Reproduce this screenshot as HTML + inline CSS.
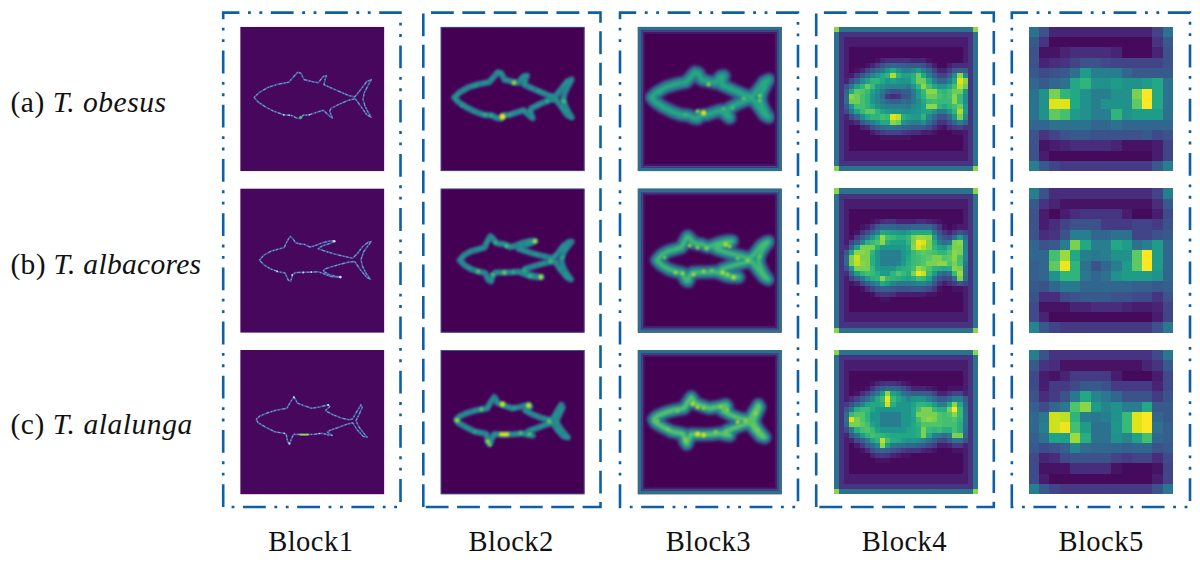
<!DOCTYPE html>
<html><head><meta charset="utf-8"><title>Feature maps</title>
<style>html,body{margin:0;padding:0;background:#fff}svg{display:block}</style></head>
<body>
<svg width="1200" height="563" viewBox="0 0 1200 563">
<defs>
<filter id="b1" filterUnits="userSpaceOnUse" x="-5" y="-5" width="155" height="155"><feGaussianBlur stdDeviation="0.55"/></filter>
<filter id="b2" filterUnits="userSpaceOnUse" x="-5" y="-5" width="155" height="155"><feGaussianBlur stdDeviation="1.1"/></filter>
<filter id="b3" filterUnits="userSpaceOnUse" x="-5" y="-5" width="155" height="155"><feGaussianBlur stdDeviation="1.6"/></filter>
<filter id="bs" filterUnits="userSpaceOnUse" x="-5" y="-5" width="155" height="155"><feGaussianBlur stdDeviation="0.8"/></filter>
<path id="f1" d="M13.8 70.7 L19.2 65.6 L28.1 60.5 L38.4 57.3 L48.6 55.4 L53.7 49.6 L57.5 45.4 L60.7 46.4 L63.9 52.8 L71.6 54.7 L78.0 56.0 L83.1 49.6 L86.3 49.0 L85.0 52.2 L83.8 57.9 L89.5 60.5 L99.7 65.0 L108.7 68.8 L114.5 70.1 L120.2 63.1 L126.6 54.7 L131.1 52.8 L127.9 58.6 L124.0 66.2 L122.8 72.6 L124.7 79.0 L127.9 85.4 L131.1 90.5 L126.6 88.0 L120.2 79.0 L115.1 72.0 L108.7 73.3 L99.7 77.1 L90.8 81.6 L89.5 84.2 L92.1 91.2 L89.5 89.3 L83.1 83.5 L76.7 85.4 L69.1 88.0 L62.7 88.6 L60.1 91.8 L56.3 91.2 L51.2 88.6 L43.5 88.0 L34.5 84.8 L25.6 80.3 L17.9 75.2Z"/>
<path id="f2" d="M19.2 71.8 L23.7 66.7 L30.7 62.8 L38.4 60.7 L44.1 59.0 L46.7 53.2 L49.9 47.9 L52.4 50.0 L55.6 54.5 L60.1 55.5 L63.9 55.8 L69.7 58.6 L73.5 57.7 L81.8 54.5 L89.5 52.6 L94.6 52.6 L89.5 55.2 L81.8 57.7 L78.0 60.3 L83.1 62.2 L93.4 65.4 L103.6 67.9 L112.5 69.9 L117.6 64.7 L122.8 57.7 L127.9 53.9 L131.1 53.2 L127.9 57.1 L123.4 63.5 L120.8 71.1 L122.1 77.5 L126.0 85.2 L130.4 91.0 L126.6 89.0 L120.2 81.4 L114.5 73.1 L108.7 73.7 L101.0 75.6 L92.1 78.2 L84.4 80.7 L83.1 82.7 L88.2 85.9 L94.6 87.8 L101.0 88.7 L94.6 88.6 L89.5 87.8 L83.1 85.2 L78.0 83.3 L71.6 83.7 L62.7 83.9 L55.0 84.2 L52.4 86.5 L50.5 92.9 L48.0 91.6 L44.8 84.6 L38.4 83.3 L30.7 80.7 L24.3 76.9Z"/>
<path id="f3" d="M16.0 69.5 L19.2 66.3 L26.9 62.9 L35.8 60.3 L46.7 58.3 L50.5 51.6 L53.7 47.1 L55.6 49.7 L56.9 52.9 L63.9 55.7 L71.6 58.3 L79.3 57.0 L88.2 54.8 L89.5 56.7 L85.0 60.6 L92.1 64.4 L101.0 68.0 L108.7 69.8 L112.5 68.9 L116.4 61.9 L120.8 54.8 L122.1 57.4 L118.9 64.4 L115.7 70.8 L118.9 77.2 L123.4 83.0 L127.2 87.4 L122.8 86.2 L116.4 79.1 L112.5 72.7 L106.1 74.4 L97.2 77.8 L89.5 80.4 L87.0 82.1 L92.1 85.5 L88.2 84.9 L81.8 83.3 L74.2 84.2 L63.9 84.6 L53.7 84.2 L51.8 87.4 L49.2 94.1 L47.3 91.3 L46.0 84.2 L43.5 83.3 L34.5 81.7 L25.6 77.2 L17.9 72.7Z"/>
<clipPath id="c0"><rect x="0" y="0" width="144.2" height="144.4"/></clipPath>
<clipPath id="c1"><rect x="0" y="0" width="144.2" height="144.4"/></clipPath>
<clipPath id="c2"><rect x="0" y="0" width="144.2" height="144.4"/></clipPath>
<clipPath id="c3"><rect x="0" y="0" width="144.2" height="144.4"/></clipPath>
<clipPath id="c4"><rect x="0" y="0" width="144.2" height="144.4"/></clipPath>
</defs>
<rect width="1200" height="563" fill="#fff"/>
<path d="M223.2 507.0 V12.6 H400.5 V507.0 Z" fill="none" stroke="#0d5fa6" stroke-width="2.60" stroke-dasharray="22.82 8.56 2.85 8.56 2.85 8.56"/>
<path d="M423.3 507.0 V12.6 H600.5 V507.0 Z" fill="none" stroke="#0d5fa6" stroke-width="2.60" stroke-dasharray="22.82 8.56"/>
<path d="M620.0 507.0 V12.6 H798.0 V507.0 Z" fill="none" stroke="#0d5fa6" stroke-width="2.60" stroke-dasharray="22.82 8.56 2.85 8.56 2.85 8.56"/>
<path d="M816.2 507.0 V12.6 H993.8 V507.0 Z" fill="none" stroke="#0d5fa6" stroke-width="2.60" stroke-dasharray="22.82 8.56"/>
<path d="M1011.8 507.0 V12.6 H1190.0 V507.0 Z" fill="none" stroke="#0d5fa6" stroke-width="2.60" stroke-dasharray="22.82 8.56 2.85 8.56 2.85 8.56"/>
<text x="10.5" y="111.6" font-family="'Liberation Serif', serif" font-size="29.5" letter-spacing="0.50" fill="#111">(a) <tspan font-style="italic">T. obesus</tspan></text>
<text x="10.5" y="273.6" font-family="'Liberation Serif', serif" font-size="29.5" letter-spacing="0.30" fill="#111">(b) <tspan font-style="italic">T. albacores</tspan></text>
<text x="10.5" y="434.2" font-family="'Liberation Serif', serif" font-size="29.5" letter-spacing="0.55" fill="#111">(c) <tspan font-style="italic">T. alalunga</tspan></text>
<text x="268.2" y="550.8" font-family="'Liberation Serif', serif" font-size="28.6" letter-spacing="0.45" fill="#111">Block1</text>
<text x="468.5" y="550.8" font-family="'Liberation Serif', serif" font-size="28.6" letter-spacing="0.45" fill="#111">Block2</text>
<text x="665.8" y="550.8" font-family="'Liberation Serif', serif" font-size="28.6" letter-spacing="0.45" fill="#111">Block3</text>
<text x="861.8" y="550.8" font-family="'Liberation Serif', serif" font-size="28.6" letter-spacing="0.45" fill="#111">Block4</text>
<text x="1058.4" y="550.8" font-family="'Liberation Serif', serif" font-size="28.6" letter-spacing="0.45" fill="#111">Block5</text>
<g transform="translate(240.2 26.8)" clip-path="url(#c0)">
<rect width="144.2" height="144.4" fill="#46075d"/>
<g filter="url(#b1)">
<use href="#f1" fill="none" stroke="#43599c" stroke-width="1.6" stroke-linejoin="round"/>
<use href="#f1" fill="none" stroke="#7f97cf" stroke-width="1.1" stroke-dasharray="1.4 1.6 2.2 2.4 1.2 3.1 3 2" stroke-linejoin="round"/>
<circle cx="60.5" cy="90.5" r="1.6" fill="#44bf70"/>
<circle cx="43.5" cy="88.0" r="0.9" fill="#cfe0f2"/>
<circle cx="69.0" cy="88.0" r="0.8" fill="#cfe0f2"/>
<circle cx="49.0" cy="88.5" r="0.8" fill="#cfe0f2"/>
</g></g>
<g transform="translate(240.2 188.4)" clip-path="url(#c0)">
<rect width="144.2" height="144.4" fill="#46075d"/>
<g filter="url(#b1)">
<use href="#f2" fill="none" stroke="#43599c" stroke-width="1.6" stroke-linejoin="round"/>
<use href="#f2" fill="none" stroke="#7f97cf" stroke-width="1.1" stroke-dasharray="1.4 1.6 2.2 2.4 1.2 3.1 3 2" stroke-linejoin="round"/>
<circle cx="94.0" cy="52.8" r="1.3" fill="#cfe0f2"/>
<circle cx="100.0" cy="88.7" r="1.3" fill="#cfe0f2"/>
<circle cx="63.0" cy="84.0" r="1.0" fill="#cfe0f2"/>
<circle cx="71.0" cy="83.7" r="0.9" fill="#cfe0f2"/>
<circle cx="37.0" cy="83.0" r="0.9" fill="#cfe0f2"/>
<circle cx="52.0" cy="86.5" r="0.9" fill="#cfe0f2"/>
</g></g>
<g transform="translate(240.2 350.0)" clip-path="url(#c0)">
<rect width="144.2" height="144.4" fill="#46075d"/>
<g filter="url(#b1)">
<use href="#f3" fill="none" stroke="#43599c" stroke-width="1.6" stroke-linejoin="round"/>
<use href="#f3" fill="none" stroke="#7f97cf" stroke-width="1.1" stroke-dasharray="1.4 1.6 2.2 2.4 1.2 3.1 3 2" stroke-linejoin="round"/>
<rect x="59.5" y="83.7" width="9" height="1.8" fill="#9bd93c"/>
<circle cx="53.7" cy="47.3" r="1.0" fill="#cfe0f2"/>
<circle cx="88.0" cy="55.0" r="1.0" fill="#cfe0f2"/>
<circle cx="49.3" cy="93.5" r="1.0" fill="#cfe0f2"/>
<circle cx="79.0" cy="83.5" r="0.8" fill="#cfe0f2"/>
<circle cx="44.0" cy="83.3" r="0.8" fill="#cfe0f2"/>
</g></g>
<g transform="translate(440.5 26.8)" clip-path="url(#c1)">
<rect width="144.2" height="144.4" fill="#440154"/>
<g filter="url(#b2)">
<use href="#f1" fill="none" stroke="#3b528b" stroke-width="6.8" stroke-linejoin="round"/>
<use href="#f1" fill="none" stroke="#25848e" stroke-width="4.2" stroke-linejoin="round"/>
<use href="#f1" fill="none" stroke="#1f9a8a" stroke-width="2.0" stroke-linejoin="round" stroke-dasharray="7 4 3 5 9 3"/>
</g>
<g filter="url(#bs)">
<circle cx="73.5" cy="56.0" r="2.3" fill="#9bd93c"/>
<circle cx="62.0" cy="90.0" r="3.0" fill="#e5e419"/>
<circle cx="123.3" cy="74.5" r="2.1" fill="#44bf70"/>
<circle cx="44.7" cy="88.0" r="1.5" fill="#44bf70"/>
<circle cx="50.5" cy="88.6" r="1.5" fill="#2fb47c"/>
<circle cx="69.0" cy="88.0" r="1.4" fill="#2fb47c"/>
<circle cx="106.7" cy="74.5" r="1.7" fill="#2fb47c"/>
<circle cx="21.0" cy="79.0" r="1.5" fill="#22a884"/>
<circle cx="35.0" cy="59.0" r="1.4" fill="#20a386"/>
<circle cx="98.0" cy="64.0" r="1.4" fill="#20a386"/>
</g>
<rect x="0.5" y="0.5" width="143.2" height="143.4" fill="none" stroke="#38588c" stroke-width="1"/>
</g>
<g transform="translate(440.5 188.4)" clip-path="url(#c1)">
<rect width="144.2" height="144.4" fill="#440154"/>
<g filter="url(#b2)">
<use href="#f2" fill="none" stroke="#3b528b" stroke-width="6.8" stroke-linejoin="round"/>
<use href="#f2" fill="none" stroke="#25848e" stroke-width="4.2" stroke-linejoin="round"/>
<use href="#f2" fill="none" stroke="#1f9a8a" stroke-width="2.0" stroke-linejoin="round" stroke-dasharray="7 4 3 5 9 3"/>
</g>
<g filter="url(#bs)">
<circle cx="94.4" cy="52.8" r="2.3" fill="#b0dd2f"/>
<circle cx="100.3" cy="88.6" r="2.4" fill="#b0dd2f"/>
<circle cx="37.7" cy="83.0" r="1.8" fill="#5ec962"/>
<circle cx="52.4" cy="86.2" r="1.7" fill="#5ec962"/>
<circle cx="64.0" cy="84.2" r="2.2" fill="#6ece58"/>
<circle cx="73.0" cy="83.5" r="1.6" fill="#2fb47c"/>
<circle cx="66.0" cy="57.5" r="2.1" fill="#44bf70"/>
<circle cx="55.0" cy="54.0" r="1.8" fill="#2fb47c"/>
<circle cx="110.0" cy="72.5" r="2.1" fill="#3bbb75"/>
<circle cx="89.5" cy="87.5" r="1.7" fill="#44bf70"/>
<circle cx="122.0" cy="69.0" r="1.5" fill="#29af7f"/>
<circle cx="84.0" cy="82.0" r="1.6" fill="#2fb47c"/>
</g>
<rect x="0.5" y="0.5" width="143.2" height="143.4" fill="none" stroke="#38588c" stroke-width="1"/>
</g>
<g transform="translate(440.5 350.0)" clip-path="url(#c1)">
<rect width="144.2" height="144.4" fill="#440154"/>
<g filter="url(#b2)">
<use href="#f3" fill="none" stroke="#3b528b" stroke-width="6.8" stroke-linejoin="round"/>
<use href="#f3" fill="none" stroke="#25848e" stroke-width="4.2" stroke-linejoin="round"/>
<use href="#f3" fill="none" stroke="#1f9a8a" stroke-width="2.0" stroke-linejoin="round" stroke-dasharray="7 4 3 5 9 3"/>
</g>
<g filter="url(#bs)">
<circle cx="16.6" cy="70.2" r="2.3" fill="#9bd93c"/>
<circle cx="41.0" cy="59.3" r="2.0" fill="#5ec962"/>
<circle cx="62.0" cy="54.2" r="2.6" fill="#cae11f"/>
<circle cx="88.2" cy="55.5" r="2.6" fill="#bddf26"/>
<circle cx="47.3" cy="91.3" r="2.1" fill="#9bd93c"/>
<circle cx="49.2" cy="94.5" r="1.7" fill="#7ad151"/>
<circle cx="108.7" cy="71.5" r="2.3" fill="#5ec962"/>
<circle cx="80.0" cy="83.3" r="1.8" fill="#5ec962"/>
<circle cx="89.0" cy="84.3" r="1.8" fill="#5ec962"/>
<circle cx="73.5" cy="58.0" r="1.6" fill="#29af7f"/>
<circle cx="34.0" cy="81.5" r="1.4" fill="#26ad81"/>
<rect x="58.5" y="82.6" width="10.5" height="3.6" rx="1.8" fill="#e5e419"/>
</g>
<rect x="0.5" y="0.5" width="143.2" height="143.4" fill="none" stroke="#38588c" stroke-width="1"/>
</g>
<g transform="translate(637.6 26.8)" clip-path="url(#c2)">
<rect width="144.2" height="144.4" fill="#440154"/>
<g filter="url(#b3)">
<use href="#f1" fill="none" stroke="#3e4c8a" stroke-width="14" stroke-linejoin="round"/>
<use href="#f1" fill="none" stroke="#2d718e" stroke-width="10.4" stroke-linejoin="round"/>
<use href="#f1" fill="none" stroke="#218e8d" stroke-width="6.6" stroke-linejoin="round"/>
<use href="#f1" fill="none" stroke="#26ad81" stroke-width="3.2" stroke-linejoin="round"/>
</g>
<g filter="url(#bs)">
<circle cx="71.0" cy="57.5" r="1.9" fill="#9bd93c"/>
<circle cx="66.0" cy="86.0" r="2.6" fill="#dfe318"/>
<circle cx="60.0" cy="84.5" r="1.9" fill="#9bd93c"/>
<circle cx="122.0" cy="69.0" r="1.8" fill="#9bd93c"/>
<circle cx="122.0" cy="74.0" r="1.7" fill="#7ad151"/>
<circle cx="106.0" cy="71.5" r="1.9" fill="#5ec962"/>
<circle cx="86.0" cy="82.0" r="1.8" fill="#5ec962"/>
<circle cx="95.0" cy="81.0" r="1.6" fill="#5ec962"/>
<circle cx="48.0" cy="88.0" r="1.6" fill="#44bf70"/>
<circle cx="22.0" cy="66.0" r="1.4" fill="#2fb47c"/>
</g>
<rect x="1.8" y="1.8" width="140.6" height="140.8" fill="none" stroke="#2e6f8e" stroke-width="3.6"/>
<rect x="4.5" y="4.5" width="135.2" height="135.4" fill="none" stroke="#414487" stroke-width="1.8"/>
<rect x="6.2" y="6.2" width="131.8" height="132.0" fill="none" stroke="#481a6c" stroke-width="1.6"/>
</g>
<g transform="translate(637.6 188.4)" clip-path="url(#c2)">
<rect width="144.2" height="144.4" fill="#440154"/>
<g filter="url(#b3)">
<use href="#f2" fill="none" stroke="#3c4f8a" stroke-width="14" stroke-linejoin="round"/>
<use href="#f2" fill="none" stroke="#2b758e" stroke-width="10.4" stroke-linejoin="round"/>
<use href="#f2" fill="none" stroke="#20928c" stroke-width="6.6" stroke-linejoin="round"/>
<use href="#f2" fill="none" stroke="#44bf70" stroke-width="3.2" stroke-linejoin="round"/>
</g>
<g filter="url(#bs)">
<circle cx="52.0" cy="57.0" r="1.9" fill="#9bd93c"/>
<circle cx="60.0" cy="59.0" r="1.8" fill="#9bd93c"/>
<circle cx="69.0" cy="60.0" r="1.8" fill="#9bd93c"/>
<circle cx="88.0" cy="56.0" r="2.2" fill="#bddf26"/>
<circle cx="92.0" cy="58.0" r="1.8" fill="#9bd93c"/>
<circle cx="38.0" cy="84.0" r="1.9" fill="#9bd93c"/>
<circle cx="45.0" cy="85.0" r="1.8" fill="#9bd93c"/>
<circle cx="56.0" cy="86.0" r="1.9" fill="#bddf26"/>
<circle cx="66.0" cy="83.0" r="1.8" fill="#9bd93c"/>
<circle cx="85.0" cy="84.0" r="2.0" fill="#bddf26"/>
<circle cx="96.0" cy="89.0" r="2.2" fill="#bddf26"/>
<circle cx="90.0" cy="86.0" r="1.8" fill="#9bd93c"/>
<circle cx="110.0" cy="72.0" r="1.9" fill="#9bd93c"/>
<circle cx="100.0" cy="70.0" r="1.7" fill="#7ad151"/>
<circle cx="27.0" cy="69.0" r="1.7" fill="#7ad151"/>
<circle cx="122.0" cy="68.0" r="1.6" fill="#5ec962"/>
<circle cx="74.0" cy="82.0" r="1.6" fill="#7ad151"/>
</g>
<rect x="1.8" y="1.8" width="140.6" height="140.8" fill="none" stroke="#2e6f8e" stroke-width="3.6"/>
<rect x="4.5" y="4.5" width="135.2" height="135.4" fill="none" stroke="#414487" stroke-width="1.8"/>
<rect x="6.2" y="6.2" width="131.8" height="132.0" fill="none" stroke="#481a6c" stroke-width="1.6"/>
</g>
<g transform="translate(637.6 350.0)" clip-path="url(#c2)">
<rect width="144.2" height="144.4" fill="#440154"/>
<g filter="url(#b3)">
<use href="#f3" fill="none" stroke="#3c4f8a" stroke-width="14" stroke-linejoin="round"/>
<use href="#f3" fill="none" stroke="#2a788e" stroke-width="10.4" stroke-linejoin="round"/>
<use href="#f3" fill="none" stroke="#1f9a8a" stroke-width="6.6" stroke-linejoin="round"/>
<use href="#f3" fill="none" stroke="#5ec962" stroke-width="3.2" stroke-linejoin="round"/>
</g>
<g filter="url(#bs)">
<circle cx="55.0" cy="54.0" r="2.2" fill="#bddf26"/>
<circle cx="60.0" cy="57.0" r="1.9" fill="#bddf26"/>
<circle cx="66.0" cy="58.0" r="1.8" fill="#9bd93c"/>
<circle cx="83.0" cy="57.0" r="1.8" fill="#9bd93c"/>
<circle cx="90.0" cy="60.0" r="1.8" fill="#9bd93c"/>
<circle cx="60.0" cy="84.0" r="2.4" fill="#dfe318"/>
<circle cx="66.0" cy="85.0" r="2.2" fill="#dfe318"/>
<circle cx="48.0" cy="90.0" r="1.8" fill="#9bd93c"/>
<circle cx="100.0" cy="72.0" r="1.9" fill="#bddf26"/>
<circle cx="108.0" cy="71.0" r="1.8" fill="#9bd93c"/>
<circle cx="118.0" cy="63.0" r="1.7" fill="#9bd93c"/>
<circle cx="120.0" cy="80.0" r="1.7" fill="#7ad151"/>
<circle cx="20.0" cy="71.0" r="1.7" fill="#7ad151"/>
<circle cx="30.0" cy="79.0" r="1.6" fill="#7ad151"/>
<circle cx="78.0" cy="82.0" r="1.7" fill="#9bd93c"/>
<circle cx="40.0" cy="61.0" r="1.6" fill="#7ad151"/>
</g>
<rect x="1.8" y="1.8" width="140.6" height="140.8" fill="none" stroke="#2e6f8e" stroke-width="3.6"/>
<rect x="4.5" y="4.5" width="135.2" height="135.4" fill="none" stroke="#414487" stroke-width="1.8"/>
<rect x="6.2" y="6.2" width="131.8" height="132.0" fill="none" stroke="#481a6c" stroke-width="1.6"/>
</g>
<g shape-rendering="crispEdges">
<rect x="834" y="27" width="5" height="5" fill="#8bd646"/>
<rect x="839" y="27" width="134" height="5" fill="#2c728e"/>
<rect x="973" y="27" width="5" height="5" fill="#8bd646"/>
<rect x="834" y="32" width="5" height="5" fill="#2c728e"/>
<rect x="839" y="32" width="134" height="5" fill="#463480"/>
<rect x="973" y="32" width="5" height="5" fill="#2c728e"/>
<rect x="834" y="37" width="5" height="5" fill="#2c728e"/>
<rect x="839" y="37" width="5" height="5" fill="#463480"/>
<rect x="844" y="37" width="124" height="5" fill="#481c6e"/>
<rect x="968" y="37" width="5" height="5" fill="#463480"/>
<rect x="973" y="37" width="5" height="5" fill="#2c728e"/>
<rect x="834" y="42" width="5" height="5" fill="#2c728e"/>
<rect x="839" y="42" width="5" height="5" fill="#463480"/>
<rect x="844" y="42" width="124" height="5" fill="#481c6e"/>
<rect x="968" y="42" width="5" height="5" fill="#463480"/>
<rect x="973" y="42" width="5" height="5" fill="#2c728e"/>
<rect x="834" y="47" width="5" height="6" fill="#2c728e"/>
<rect x="839" y="47" width="5" height="6" fill="#463480"/>
<rect x="844" y="47" width="5" height="6" fill="#481c6e"/>
<rect x="849" y="47" width="114" height="6" fill="#460a5d"/>
<rect x="963" y="47" width="5" height="6" fill="#481c6e"/>
<rect x="968" y="47" width="5" height="6" fill="#463480"/>
<rect x="973" y="47" width="5" height="6" fill="#2c728e"/>
<rect x="834" y="53" width="5" height="5" fill="#2c728e"/>
<rect x="839" y="53" width="5" height="5" fill="#463480"/>
<rect x="844" y="53" width="5" height="5" fill="#481c6e"/>
<rect x="849" y="53" width="114" height="5" fill="#460a5d"/>
<rect x="963" y="53" width="5" height="5" fill="#481c6e"/>
<rect x="968" y="53" width="5" height="5" fill="#463480"/>
<rect x="973" y="53" width="5" height="5" fill="#2c728e"/>
<rect x="834" y="58" width="5" height="5" fill="#2c728e"/>
<rect x="839" y="58" width="5" height="5" fill="#463480"/>
<rect x="844" y="58" width="5" height="5" fill="#481c6e"/>
<rect x="849" y="58" width="26" height="5" fill="#460a5d"/>
<rect x="875" y="58" width="5" height="5" fill="#471365"/>
<rect x="880" y="58" width="5" height="5" fill="#482475"/>
<rect x="885" y="58" width="26" height="5" fill="#472d7b"/>
<rect x="911" y="58" width="15" height="5" fill="#482475"/>
<rect x="926" y="58" width="6" height="5" fill="#471365"/>
<rect x="932" y="58" width="31" height="5" fill="#460a5d"/>
<rect x="963" y="58" width="5" height="5" fill="#481c6e"/>
<rect x="968" y="58" width="5" height="5" fill="#463480"/>
<rect x="973" y="58" width="5" height="5" fill="#2c728e"/>
<rect x="834" y="63" width="5" height="5" fill="#2c728e"/>
<rect x="839" y="63" width="5" height="5" fill="#463480"/>
<rect x="844" y="63" width="5" height="5" fill="#481c6e"/>
<rect x="849" y="63" width="16" height="5" fill="#460a5d"/>
<rect x="865" y="63" width="5" height="5" fill="#471365"/>
<rect x="870" y="63" width="5" height="5" fill="#482475"/>
<rect x="875" y="63" width="5" height="5" fill="#443b84"/>
<rect x="880" y="63" width="5" height="5" fill="#3b528b"/>
<rect x="885" y="63" width="5" height="5" fill="#355f8d"/>
<rect x="890" y="63" width="6" height="5" fill="#31668e"/>
<rect x="896" y="63" width="10" height="5" fill="#355f8d"/>
<rect x="906" y="63" width="15" height="5" fill="#38598c"/>
<rect x="921" y="63" width="5" height="5" fill="#3b528b"/>
<rect x="926" y="63" width="6" height="5" fill="#443b84"/>
<rect x="932" y="63" width="5" height="5" fill="#481c6e"/>
<rect x="937" y="63" width="10" height="5" fill="#460a5d"/>
<rect x="947" y="63" width="5" height="5" fill="#481c6e"/>
<rect x="952" y="63" width="16" height="5" fill="#472d7b"/>
<rect x="968" y="63" width="5" height="5" fill="#463480"/>
<rect x="973" y="63" width="5" height="5" fill="#2c728e"/>
<rect x="834" y="68" width="5" height="5" fill="#2c728e"/>
<rect x="839" y="68" width="5" height="5" fill="#463480"/>
<rect x="844" y="68" width="5" height="5" fill="#481c6e"/>
<rect x="849" y="68" width="5" height="5" fill="#460a5d"/>
<rect x="854" y="68" width="6" height="5" fill="#471365"/>
<rect x="860" y="68" width="5" height="5" fill="#482475"/>
<rect x="865" y="68" width="5" height="5" fill="#414487"/>
<rect x="870" y="68" width="5" height="5" fill="#38598c"/>
<rect x="875" y="68" width="5" height="5" fill="#2f6c8e"/>
<rect x="880" y="68" width="5" height="5" fill="#2a788e"/>
<rect x="885" y="68" width="5" height="5" fill="#21918c"/>
<rect x="890" y="68" width="6" height="5" fill="#22a884"/>
<rect x="896" y="68" width="5" height="5" fill="#21918c"/>
<rect x="901" y="68" width="10" height="5" fill="#277e8e"/>
<rect x="911" y="68" width="5" height="5" fill="#238a8d"/>
<rect x="916" y="68" width="5" height="5" fill="#1e9c89"/>
<rect x="921" y="68" width="5" height="5" fill="#277e8e"/>
<rect x="926" y="68" width="6" height="5" fill="#31668e"/>
<rect x="932" y="68" width="5" height="5" fill="#414487"/>
<rect x="937" y="68" width="10" height="5" fill="#482475"/>
<rect x="947" y="68" width="5" height="5" fill="#443b84"/>
<rect x="952" y="68" width="5" height="5" fill="#38598c"/>
<rect x="957" y="68" width="6" height="5" fill="#355f8d"/>
<rect x="963" y="68" width="5" height="5" fill="#38598c"/>
<rect x="968" y="68" width="5" height="5" fill="#463480"/>
<rect x="973" y="68" width="5" height="5" fill="#2c728e"/>
<rect x="834" y="73" width="5" height="5" fill="#2c728e"/>
<rect x="839" y="73" width="5" height="5" fill="#463480"/>
<rect x="844" y="73" width="10" height="5" fill="#481c6e"/>
<rect x="854" y="73" width="6" height="5" fill="#443b84"/>
<rect x="860" y="73" width="5" height="5" fill="#38598c"/>
<rect x="865" y="73" width="5" height="5" fill="#2f6c8e"/>
<rect x="870" y="73" width="5" height="5" fill="#25848e"/>
<rect x="875" y="73" width="5" height="5" fill="#1f968b"/>
<rect x="880" y="73" width="5" height="5" fill="#22a884"/>
<rect x="885" y="73" width="5" height="5" fill="#2fb47c"/>
<rect x="890" y="73" width="6" height="5" fill="#addc30"/>
<rect x="896" y="73" width="5" height="5" fill="#2fb47c"/>
<rect x="901" y="73" width="10" height="5" fill="#1fa287"/>
<rect x="911" y="73" width="5" height="5" fill="#28ae80"/>
<rect x="916" y="73" width="5" height="5" fill="#6ccd5a"/>
<rect x="921" y="73" width="5" height="5" fill="#22a884"/>
<rect x="926" y="73" width="6" height="5" fill="#277e8e"/>
<rect x="932" y="73" width="5" height="5" fill="#355f8d"/>
<rect x="937" y="73" width="10" height="5" fill="#414487"/>
<rect x="947" y="73" width="5" height="5" fill="#355f8d"/>
<rect x="952" y="73" width="5" height="5" fill="#238a8d"/>
<rect x="957" y="73" width="6" height="5" fill="#8bd646"/>
<rect x="963" y="73" width="5" height="5" fill="#238a8d"/>
<rect x="968" y="73" width="5" height="5" fill="#463480"/>
<rect x="973" y="73" width="5" height="5" fill="#2c728e"/>
<rect x="834" y="78" width="5" height="6" fill="#2c728e"/>
<rect x="839" y="78" width="5" height="6" fill="#463480"/>
<rect x="844" y="78" width="5" height="6" fill="#482475"/>
<rect x="849" y="78" width="5" height="6" fill="#3e4a89"/>
<rect x="854" y="78" width="6" height="6" fill="#31668e"/>
<rect x="860" y="78" width="5" height="6" fill="#238a8d"/>
<rect x="865" y="78" width="5" height="6" fill="#1fa287"/>
<rect x="870" y="78" width="10" height="6" fill="#2fb47c"/>
<rect x="880" y="78" width="5" height="6" fill="#22a884"/>
<rect x="885" y="78" width="5" height="6" fill="#1f968b"/>
<rect x="890" y="78" width="6" height="6" fill="#1fa287"/>
<rect x="896" y="78" width="5" height="6" fill="#1f968b"/>
<rect x="901" y="78" width="5" height="6" fill="#21918c"/>
<rect x="906" y="78" width="5" height="6" fill="#1f968b"/>
<rect x="911" y="78" width="5" height="6" fill="#28ae80"/>
<rect x="916" y="78" width="10" height="6" fill="#6ccd5a"/>
<rect x="926" y="78" width="6" height="6" fill="#22a884"/>
<rect x="932" y="78" width="5" height="6" fill="#277e8e"/>
<rect x="937" y="78" width="10" height="6" fill="#31668e"/>
<rect x="947" y="78" width="5" height="6" fill="#277e8e"/>
<rect x="952" y="78" width="5" height="6" fill="#22a884"/>
<rect x="957" y="78" width="6" height="6" fill="#dfe318"/>
<rect x="963" y="78" width="5" height="6" fill="#8bd646"/>
<rect x="968" y="78" width="5" height="6" fill="#463480"/>
<rect x="973" y="78" width="5" height="6" fill="#2c728e"/>
<rect x="834" y="84" width="5" height="5" fill="#2c728e"/>
<rect x="839" y="84" width="5" height="5" fill="#463480"/>
<rect x="844" y="84" width="5" height="5" fill="#3b528b"/>
<rect x="849" y="84" width="5" height="5" fill="#2a788e"/>
<rect x="854" y="84" width="6" height="5" fill="#1fa287"/>
<rect x="860" y="84" width="5" height="5" fill="#2fb47c"/>
<rect x="865" y="84" width="5" height="5" fill="#6ccd5a"/>
<rect x="870" y="84" width="5" height="5" fill="#38b977"/>
<rect x="875" y="84" width="5" height="5" fill="#1e9c89"/>
<rect x="880" y="84" width="5" height="5" fill="#21918c"/>
<rect x="885" y="84" width="21" height="5" fill="#25848e"/>
<rect x="906" y="84" width="5" height="5" fill="#2a788e"/>
<rect x="911" y="84" width="5" height="5" fill="#1f968b"/>
<rect x="916" y="84" width="5" height="5" fill="#2fb47c"/>
<rect x="921" y="84" width="5" height="5" fill="#8bd646"/>
<rect x="926" y="84" width="6" height="5" fill="#44bf70"/>
<rect x="932" y="84" width="5" height="5" fill="#22a884"/>
<rect x="937" y="84" width="10" height="5" fill="#1f968b"/>
<rect x="947" y="84" width="5" height="5" fill="#22a884"/>
<rect x="952" y="84" width="5" height="5" fill="#44bf70"/>
<rect x="957" y="84" width="6" height="5" fill="#bddf26"/>
<rect x="963" y="84" width="5" height="5" fill="#6ccd5a"/>
<rect x="968" y="84" width="5" height="5" fill="#463480"/>
<rect x="973" y="84" width="5" height="5" fill="#2c728e"/>
<rect x="834" y="89" width="5" height="5" fill="#2c728e"/>
<rect x="839" y="89" width="5" height="5" fill="#463480"/>
<rect x="844" y="89" width="5" height="5" fill="#31668e"/>
<rect x="849" y="89" width="5" height="5" fill="#22a884"/>
<rect x="854" y="89" width="6" height="5" fill="#5ec962"/>
<rect x="860" y="89" width="5" height="5" fill="#50c46a"/>
<rect x="865" y="89" width="5" height="5" fill="#38b977"/>
<rect x="870" y="89" width="5" height="5" fill="#1fa287"/>
<rect x="875" y="89" width="5" height="5" fill="#238a8d"/>
<rect x="880" y="89" width="5" height="5" fill="#2a788e"/>
<rect x="885" y="89" width="5" height="5" fill="#355f8d"/>
<rect x="890" y="89" width="11" height="5" fill="#3b528b"/>
<rect x="901" y="89" width="10" height="5" fill="#355f8d"/>
<rect x="911" y="89" width="5" height="5" fill="#2a788e"/>
<rect x="916" y="89" width="5" height="5" fill="#1e9c89"/>
<rect x="921" y="89" width="5" height="5" fill="#38b977"/>
<rect x="926" y="89" width="11" height="5" fill="#8bd646"/>
<rect x="937" y="89" width="5" height="5" fill="#38b977"/>
<rect x="942" y="89" width="5" height="5" fill="#2fb47c"/>
<rect x="947" y="89" width="5" height="5" fill="#44bf70"/>
<rect x="952" y="89" width="11" height="5" fill="#6ccd5a"/>
<rect x="963" y="89" width="5" height="5" fill="#1f968b"/>
<rect x="968" y="89" width="5" height="5" fill="#463480"/>
<rect x="973" y="89" width="5" height="5" fill="#2c728e"/>
<rect x="834" y="94" width="5" height="5" fill="#2c728e"/>
<rect x="839" y="94" width="5" height="5" fill="#463480"/>
<rect x="844" y="94" width="5" height="5" fill="#2f6c8e"/>
<rect x="849" y="94" width="5" height="5" fill="#8bd646"/>
<rect x="854" y="94" width="6" height="5" fill="#6ccd5a"/>
<rect x="860" y="94" width="5" height="5" fill="#44bf70"/>
<rect x="865" y="94" width="5" height="5" fill="#2fb47c"/>
<rect x="870" y="94" width="5" height="5" fill="#1f968b"/>
<rect x="875" y="94" width="5" height="5" fill="#25848e"/>
<rect x="880" y="94" width="5" height="5" fill="#2f6c8e"/>
<rect x="885" y="94" width="5" height="5" fill="#443b84"/>
<rect x="890" y="94" width="6" height="5" fill="#472d7b"/>
<rect x="896" y="94" width="5" height="5" fill="#463480"/>
<rect x="901" y="94" width="5" height="5" fill="#3b528b"/>
<rect x="906" y="94" width="5" height="5" fill="#38598c"/>
<rect x="911" y="94" width="5" height="5" fill="#2a788e"/>
<rect x="916" y="94" width="5" height="5" fill="#1e9c89"/>
<rect x="921" y="94" width="5" height="5" fill="#2fb47c"/>
<rect x="926" y="94" width="11" height="5" fill="#6ccd5a"/>
<rect x="937" y="94" width="5" height="5" fill="#44bf70"/>
<rect x="942" y="94" width="5" height="5" fill="#38b977"/>
<rect x="947" y="94" width="5" height="5" fill="#44bf70"/>
<rect x="952" y="94" width="5" height="5" fill="#8bd646"/>
<rect x="957" y="94" width="6" height="5" fill="#38b977"/>
<rect x="963" y="94" width="5" height="5" fill="#238a8d"/>
<rect x="968" y="94" width="5" height="5" fill="#463480"/>
<rect x="973" y="94" width="5" height="5" fill="#2c728e"/>
<rect x="834" y="99" width="5" height="5" fill="#2c728e"/>
<rect x="839" y="99" width="5" height="5" fill="#463480"/>
<rect x="844" y="99" width="5" height="5" fill="#2f6c8e"/>
<rect x="849" y="99" width="11" height="5" fill="#6ccd5a"/>
<rect x="860" y="99" width="5" height="5" fill="#44bf70"/>
<rect x="865" y="99" width="5" height="5" fill="#2fb47c"/>
<rect x="870" y="99" width="5" height="5" fill="#1f968b"/>
<rect x="875" y="99" width="5" height="5" fill="#25848e"/>
<rect x="880" y="99" width="5" height="5" fill="#2a788e"/>
<rect x="885" y="99" width="5" height="5" fill="#31668e"/>
<rect x="890" y="99" width="11" height="5" fill="#355f8d"/>
<rect x="901" y="99" width="5" height="5" fill="#2f6c8e"/>
<rect x="906" y="99" width="5" height="5" fill="#31668e"/>
<rect x="911" y="99" width="5" height="5" fill="#2a788e"/>
<rect x="916" y="99" width="5" height="5" fill="#238a8d"/>
<rect x="921" y="99" width="5" height="5" fill="#22a884"/>
<rect x="926" y="99" width="6" height="5" fill="#38b977"/>
<rect x="932" y="99" width="5" height="5" fill="#44bf70"/>
<rect x="937" y="99" width="15" height="5" fill="#38b977"/>
<rect x="952" y="99" width="5" height="5" fill="#8bd646"/>
<rect x="957" y="99" width="6" height="5" fill="#38b977"/>
<rect x="963" y="99" width="5" height="5" fill="#238a8d"/>
<rect x="968" y="99" width="5" height="5" fill="#463480"/>
<rect x="973" y="99" width="5" height="5" fill="#2c728e"/>
<rect x="834" y="104" width="5" height="5" fill="#2c728e"/>
<rect x="839" y="104" width="5" height="5" fill="#463480"/>
<rect x="844" y="104" width="5" height="5" fill="#38598c"/>
<rect x="849" y="104" width="5" height="5" fill="#1f968b"/>
<rect x="854" y="104" width="11" height="5" fill="#44bf70"/>
<rect x="865" y="104" width="5" height="5" fill="#2fb47c"/>
<rect x="870" y="104" width="5" height="5" fill="#22a884"/>
<rect x="875" y="104" width="5" height="5" fill="#21918c"/>
<rect x="880" y="104" width="5" height="5" fill="#25848e"/>
<rect x="885" y="104" width="21" height="5" fill="#277e8e"/>
<rect x="906" y="104" width="5" height="5" fill="#2a788e"/>
<rect x="911" y="104" width="5" height="5" fill="#238a8d"/>
<rect x="916" y="104" width="5" height="5" fill="#21918c"/>
<rect x="921" y="104" width="5" height="5" fill="#1fa287"/>
<rect x="926" y="104" width="11" height="5" fill="#8bd646"/>
<rect x="937" y="104" width="5" height="5" fill="#2fb47c"/>
<rect x="942" y="104" width="5" height="5" fill="#22a884"/>
<rect x="947" y="104" width="5" height="5" fill="#2fb47c"/>
<rect x="952" y="104" width="5" height="5" fill="#44bf70"/>
<rect x="957" y="104" width="6" height="5" fill="#6ccd5a"/>
<rect x="963" y="104" width="5" height="5" fill="#1f968b"/>
<rect x="968" y="104" width="5" height="5" fill="#463480"/>
<rect x="973" y="104" width="5" height="5" fill="#2c728e"/>
<rect x="834" y="109" width="5" height="5" fill="#2c728e"/>
<rect x="839" y="109" width="5" height="5" fill="#463480"/>
<rect x="844" y="109" width="5" height="5" fill="#3e4a89"/>
<rect x="849" y="109" width="5" height="5" fill="#2a788e"/>
<rect x="854" y="109" width="6" height="5" fill="#1fa287"/>
<rect x="860" y="109" width="5" height="5" fill="#38b977"/>
<rect x="865" y="109" width="10" height="5" fill="#5ec962"/>
<rect x="875" y="109" width="5" height="5" fill="#2fb47c"/>
<rect x="880" y="109" width="5" height="5" fill="#1fa287"/>
<rect x="885" y="109" width="5" height="5" fill="#1f968b"/>
<rect x="890" y="109" width="11" height="5" fill="#21918c"/>
<rect x="901" y="109" width="10" height="5" fill="#238a8d"/>
<rect x="911" y="109" width="5" height="5" fill="#21918c"/>
<rect x="916" y="109" width="5" height="5" fill="#1f968b"/>
<rect x="921" y="109" width="11" height="5" fill="#1fa287"/>
<rect x="932" y="109" width="5" height="5" fill="#21918c"/>
<rect x="937" y="109" width="10" height="5" fill="#2a788e"/>
<rect x="947" y="109" width="5" height="5" fill="#1f968b"/>
<rect x="952" y="109" width="5" height="5" fill="#2fb47c"/>
<rect x="957" y="109" width="6" height="5" fill="#addc30"/>
<rect x="963" y="109" width="5" height="5" fill="#1e9c89"/>
<rect x="968" y="109" width="5" height="5" fill="#463480"/>
<rect x="973" y="109" width="5" height="5" fill="#2c728e"/>
<rect x="834" y="114" width="5" height="6" fill="#2c728e"/>
<rect x="839" y="114" width="5" height="6" fill="#463480"/>
<rect x="844" y="114" width="5" height="6" fill="#482475"/>
<rect x="849" y="114" width="5" height="6" fill="#3e4a89"/>
<rect x="854" y="114" width="6" height="6" fill="#31668e"/>
<rect x="860" y="114" width="5" height="6" fill="#238a8d"/>
<rect x="865" y="114" width="5" height="6" fill="#22a884"/>
<rect x="870" y="114" width="10" height="6" fill="#2fb47c"/>
<rect x="880" y="114" width="5" height="6" fill="#44bf70"/>
<rect x="885" y="114" width="5" height="6" fill="#38b977"/>
<rect x="890" y="114" width="6" height="6" fill="#dfe318"/>
<rect x="896" y="114" width="5" height="6" fill="#bddf26"/>
<rect x="901" y="114" width="5" height="6" fill="#28ae80"/>
<rect x="906" y="114" width="5" height="6" fill="#1fa287"/>
<rect x="911" y="114" width="10" height="6" fill="#1e9c89"/>
<rect x="921" y="114" width="5" height="6" fill="#2fb47c"/>
<rect x="926" y="114" width="6" height="6" fill="#25848e"/>
<rect x="932" y="114" width="5" height="6" fill="#2f6c8e"/>
<rect x="937" y="114" width="10" height="6" fill="#3b528b"/>
<rect x="947" y="114" width="5" height="6" fill="#2f6c8e"/>
<rect x="952" y="114" width="5" height="6" fill="#1f968b"/>
<rect x="957" y="114" width="6" height="6" fill="#7ad151"/>
<rect x="963" y="114" width="5" height="6" fill="#238a8d"/>
<rect x="968" y="114" width="5" height="6" fill="#463480"/>
<rect x="973" y="114" width="5" height="6" fill="#2c728e"/>
<rect x="834" y="120" width="5" height="5" fill="#2c728e"/>
<rect x="839" y="120" width="5" height="5" fill="#463480"/>
<rect x="844" y="120" width="10" height="5" fill="#481c6e"/>
<rect x="854" y="120" width="6" height="5" fill="#472d7b"/>
<rect x="860" y="120" width="5" height="5" fill="#38598c"/>
<rect x="865" y="120" width="5" height="5" fill="#2f6c8e"/>
<rect x="870" y="120" width="5" height="5" fill="#277e8e"/>
<rect x="875" y="120" width="5" height="5" fill="#21918c"/>
<rect x="880" y="120" width="10" height="5" fill="#22a884"/>
<rect x="890" y="120" width="6" height="5" fill="#8bd646"/>
<rect x="896" y="120" width="5" height="5" fill="#6ccd5a"/>
<rect x="901" y="120" width="5" height="5" fill="#1f968b"/>
<rect x="906" y="120" width="5" height="5" fill="#25848e"/>
<rect x="911" y="120" width="10" height="5" fill="#277e8e"/>
<rect x="921" y="120" width="5" height="5" fill="#238a8d"/>
<rect x="926" y="120" width="6" height="5" fill="#2f6c8e"/>
<rect x="932" y="120" width="5" height="5" fill="#3b528b"/>
<rect x="937" y="120" width="10" height="5" fill="#463480"/>
<rect x="947" y="120" width="5" height="5" fill="#3e4a89"/>
<rect x="952" y="120" width="5" height="5" fill="#31668e"/>
<rect x="957" y="120" width="6" height="5" fill="#277e8e"/>
<rect x="963" y="120" width="5" height="5" fill="#31668e"/>
<rect x="968" y="120" width="5" height="5" fill="#463480"/>
<rect x="973" y="120" width="5" height="5" fill="#2c728e"/>
<rect x="834" y="125" width="5" height="5" fill="#2c728e"/>
<rect x="839" y="125" width="5" height="5" fill="#463480"/>
<rect x="844" y="125" width="5" height="5" fill="#481c6e"/>
<rect x="849" y="125" width="11" height="5" fill="#460a5d"/>
<rect x="860" y="125" width="5" height="5" fill="#482475"/>
<rect x="865" y="125" width="5" height="5" fill="#472d7b"/>
<rect x="870" y="125" width="5" height="5" fill="#3b528b"/>
<rect x="875" y="125" width="5" height="5" fill="#355f8d"/>
<rect x="880" y="125" width="5" height="5" fill="#2f6c8e"/>
<rect x="885" y="125" width="11" height="5" fill="#2c728e"/>
<rect x="896" y="125" width="5" height="5" fill="#2f6c8e"/>
<rect x="901" y="125" width="5" height="5" fill="#31668e"/>
<rect x="906" y="125" width="5" height="5" fill="#355f8d"/>
<rect x="911" y="125" width="15" height="5" fill="#38598c"/>
<rect x="926" y="125" width="6" height="5" fill="#3e4a89"/>
<rect x="932" y="125" width="5" height="5" fill="#463480"/>
<rect x="937" y="125" width="5" height="5" fill="#481c6e"/>
<rect x="942" y="125" width="5" height="5" fill="#471365"/>
<rect x="947" y="125" width="5" height="5" fill="#472d7b"/>
<rect x="952" y="125" width="5" height="5" fill="#443b84"/>
<rect x="957" y="125" width="6" height="5" fill="#414487"/>
<rect x="963" y="125" width="10" height="5" fill="#463480"/>
<rect x="973" y="125" width="5" height="5" fill="#2c728e"/>
<rect x="834" y="130" width="5" height="5" fill="#2c728e"/>
<rect x="839" y="130" width="5" height="5" fill="#463480"/>
<rect x="844" y="130" width="5" height="5" fill="#481c6e"/>
<rect x="849" y="130" width="21" height="5" fill="#460a5d"/>
<rect x="870" y="130" width="5" height="5" fill="#481c6e"/>
<rect x="875" y="130" width="5" height="5" fill="#472d7b"/>
<rect x="880" y="130" width="5" height="5" fill="#443b84"/>
<rect x="885" y="130" width="16" height="5" fill="#414487"/>
<rect x="901" y="130" width="5" height="5" fill="#443b84"/>
<rect x="906" y="130" width="5" height="5" fill="#463480"/>
<rect x="911" y="130" width="10" height="5" fill="#472d7b"/>
<rect x="921" y="130" width="11" height="5" fill="#481c6e"/>
<rect x="932" y="130" width="5" height="5" fill="#471365"/>
<rect x="937" y="130" width="15" height="5" fill="#460a5d"/>
<rect x="952" y="130" width="11" height="5" fill="#471365"/>
<rect x="963" y="130" width="5" height="5" fill="#481c6e"/>
<rect x="968" y="130" width="5" height="5" fill="#463480"/>
<rect x="973" y="130" width="5" height="5" fill="#2c728e"/>
<rect x="834" y="135" width="5" height="5" fill="#2c728e"/>
<rect x="839" y="135" width="5" height="5" fill="#463480"/>
<rect x="844" y="135" width="5" height="5" fill="#481c6e"/>
<rect x="849" y="135" width="31" height="5" fill="#460a5d"/>
<rect x="880" y="135" width="31" height="5" fill="#471365"/>
<rect x="911" y="135" width="52" height="5" fill="#460a5d"/>
<rect x="963" y="135" width="5" height="5" fill="#481c6e"/>
<rect x="968" y="135" width="5" height="5" fill="#463480"/>
<rect x="973" y="135" width="5" height="5" fill="#2c728e"/>
<rect x="834" y="140" width="5" height="5" fill="#2c728e"/>
<rect x="839" y="140" width="5" height="5" fill="#463480"/>
<rect x="844" y="140" width="5" height="5" fill="#481c6e"/>
<rect x="849" y="140" width="114" height="5" fill="#460a5d"/>
<rect x="963" y="140" width="5" height="5" fill="#481c6e"/>
<rect x="968" y="140" width="5" height="5" fill="#463480"/>
<rect x="973" y="140" width="5" height="5" fill="#2c728e"/>
<rect x="834" y="145" width="5" height="6" fill="#2c728e"/>
<rect x="839" y="145" width="5" height="6" fill="#463480"/>
<rect x="844" y="145" width="5" height="6" fill="#481c6e"/>
<rect x="849" y="145" width="114" height="6" fill="#460a5d"/>
<rect x="963" y="145" width="5" height="6" fill="#481c6e"/>
<rect x="968" y="145" width="5" height="6" fill="#463480"/>
<rect x="973" y="145" width="5" height="6" fill="#2c728e"/>
<rect x="834" y="151" width="5" height="5" fill="#2c728e"/>
<rect x="839" y="151" width="5" height="5" fill="#463480"/>
<rect x="844" y="151" width="124" height="5" fill="#481c6e"/>
<rect x="968" y="151" width="5" height="5" fill="#463480"/>
<rect x="973" y="151" width="5" height="5" fill="#2c728e"/>
<rect x="834" y="156" width="5" height="5" fill="#2c728e"/>
<rect x="839" y="156" width="5" height="5" fill="#463480"/>
<rect x="844" y="156" width="124" height="5" fill="#481c6e"/>
<rect x="968" y="156" width="5" height="5" fill="#463480"/>
<rect x="973" y="156" width="5" height="5" fill="#2c728e"/>
<rect x="834" y="161" width="5" height="5" fill="#2c728e"/>
<rect x="839" y="161" width="134" height="5" fill="#463480"/>
<rect x="973" y="161" width="5" height="5" fill="#2c728e"/>
<rect x="834" y="166" width="5" height="5" fill="#8bd646"/>
<rect x="839" y="166" width="134" height="5" fill="#2c728e"/>
<rect x="973" y="166" width="5" height="5" fill="#8bd646"/>
</g>
<g shape-rendering="crispEdges">
<rect x="834" y="188" width="5" height="6" fill="#8bd646"/>
<rect x="839" y="188" width="134" height="6" fill="#2c728e"/>
<rect x="973" y="188" width="5" height="6" fill="#8bd646"/>
<rect x="834" y="194" width="5" height="5" fill="#2c728e"/>
<rect x="839" y="194" width="134" height="5" fill="#463480"/>
<rect x="973" y="194" width="5" height="5" fill="#2c728e"/>
<rect x="834" y="199" width="5" height="5" fill="#2c728e"/>
<rect x="839" y="199" width="5" height="5" fill="#463480"/>
<rect x="844" y="199" width="124" height="5" fill="#481c6e"/>
<rect x="968" y="199" width="5" height="5" fill="#463480"/>
<rect x="973" y="199" width="5" height="5" fill="#2c728e"/>
<rect x="834" y="204" width="5" height="5" fill="#2c728e"/>
<rect x="839" y="204" width="5" height="5" fill="#463480"/>
<rect x="844" y="204" width="124" height="5" fill="#481c6e"/>
<rect x="968" y="204" width="5" height="5" fill="#463480"/>
<rect x="973" y="204" width="5" height="5" fill="#2c728e"/>
<rect x="834" y="209" width="5" height="5" fill="#2c728e"/>
<rect x="839" y="209" width="5" height="5" fill="#463480"/>
<rect x="844" y="209" width="5" height="5" fill="#481c6e"/>
<rect x="849" y="209" width="114" height="5" fill="#460a5d"/>
<rect x="963" y="209" width="5" height="5" fill="#481c6e"/>
<rect x="968" y="209" width="5" height="5" fill="#463480"/>
<rect x="973" y="209" width="5" height="5" fill="#2c728e"/>
<rect x="834" y="214" width="5" height="5" fill="#2c728e"/>
<rect x="839" y="214" width="5" height="5" fill="#463480"/>
<rect x="844" y="214" width="5" height="5" fill="#481c6e"/>
<rect x="849" y="214" width="114" height="5" fill="#460a5d"/>
<rect x="963" y="214" width="5" height="5" fill="#481c6e"/>
<rect x="968" y="214" width="5" height="5" fill="#463480"/>
<rect x="973" y="214" width="5" height="5" fill="#2c728e"/>
<rect x="834" y="219" width="5" height="5" fill="#2c728e"/>
<rect x="839" y="219" width="5" height="5" fill="#463480"/>
<rect x="844" y="219" width="5" height="5" fill="#481c6e"/>
<rect x="849" y="219" width="21" height="5" fill="#460a5d"/>
<rect x="870" y="219" width="5" height="5" fill="#471365"/>
<rect x="875" y="219" width="5" height="5" fill="#481c6e"/>
<rect x="880" y="219" width="5" height="5" fill="#472d7b"/>
<rect x="885" y="219" width="11" height="5" fill="#463480"/>
<rect x="896" y="219" width="20" height="5" fill="#482475"/>
<rect x="916" y="219" width="10" height="5" fill="#472d7b"/>
<rect x="926" y="219" width="6" height="5" fill="#482475"/>
<rect x="932" y="219" width="5" height="5" fill="#481c6e"/>
<rect x="937" y="219" width="5" height="5" fill="#471365"/>
<rect x="942" y="219" width="21" height="5" fill="#460a5d"/>
<rect x="963" y="219" width="5" height="5" fill="#481c6e"/>
<rect x="968" y="219" width="5" height="5" fill="#463480"/>
<rect x="973" y="219" width="5" height="5" fill="#2c728e"/>
<rect x="834" y="224" width="5" height="6" fill="#2c728e"/>
<rect x="839" y="224" width="5" height="6" fill="#463480"/>
<rect x="844" y="224" width="5" height="6" fill="#481c6e"/>
<rect x="849" y="224" width="11" height="6" fill="#460a5d"/>
<rect x="860" y="224" width="5" height="6" fill="#471365"/>
<rect x="865" y="224" width="5" height="6" fill="#481c6e"/>
<rect x="870" y="224" width="5" height="6" fill="#443b84"/>
<rect x="875" y="224" width="5" height="6" fill="#38598c"/>
<rect x="880" y="224" width="16" height="6" fill="#31668e"/>
<rect x="896" y="224" width="15" height="6" fill="#355f8d"/>
<rect x="911" y="224" width="21" height="6" fill="#31668e"/>
<rect x="932" y="224" width="5" height="6" fill="#3b528b"/>
<rect x="937" y="224" width="5" height="6" fill="#463480"/>
<rect x="942" y="224" width="5" height="6" fill="#471365"/>
<rect x="947" y="224" width="5" height="6" fill="#460a5d"/>
<rect x="952" y="224" width="5" height="6" fill="#471365"/>
<rect x="957" y="224" width="11" height="6" fill="#481c6e"/>
<rect x="968" y="224" width="5" height="6" fill="#463480"/>
<rect x="973" y="224" width="5" height="6" fill="#2c728e"/>
<rect x="834" y="230" width="5" height="5" fill="#2c728e"/>
<rect x="839" y="230" width="5" height="5" fill="#463480"/>
<rect x="844" y="230" width="5" height="5" fill="#481c6e"/>
<rect x="849" y="230" width="5" height="5" fill="#460a5d"/>
<rect x="854" y="230" width="6" height="5" fill="#471365"/>
<rect x="860" y="230" width="5" height="5" fill="#463480"/>
<rect x="865" y="230" width="5" height="5" fill="#3e4a89"/>
<rect x="870" y="230" width="5" height="5" fill="#31668e"/>
<rect x="875" y="230" width="5" height="5" fill="#277e8e"/>
<rect x="880" y="230" width="5" height="5" fill="#22a884"/>
<rect x="885" y="230" width="5" height="5" fill="#1fa287"/>
<rect x="890" y="230" width="6" height="5" fill="#1e9c89"/>
<rect x="896" y="230" width="5" height="5" fill="#1f968b"/>
<rect x="901" y="230" width="5" height="5" fill="#21918c"/>
<rect x="906" y="230" width="5" height="5" fill="#1e9c89"/>
<rect x="911" y="230" width="21" height="5" fill="#22a884"/>
<rect x="932" y="230" width="5" height="5" fill="#2a788e"/>
<rect x="937" y="230" width="5" height="5" fill="#3b528b"/>
<rect x="942" y="230" width="5" height="5" fill="#463480"/>
<rect x="947" y="230" width="5" height="5" fill="#482475"/>
<rect x="952" y="230" width="5" height="5" fill="#443b84"/>
<rect x="957" y="230" width="6" height="5" fill="#3b528b"/>
<rect x="963" y="230" width="5" height="5" fill="#414487"/>
<rect x="968" y="230" width="5" height="5" fill="#463480"/>
<rect x="973" y="230" width="5" height="5" fill="#2c728e"/>
<rect x="834" y="235" width="5" height="5" fill="#2c728e"/>
<rect x="839" y="235" width="5" height="5" fill="#463480"/>
<rect x="844" y="235" width="5" height="5" fill="#481c6e"/>
<rect x="849" y="235" width="5" height="5" fill="#471365"/>
<rect x="854" y="235" width="6" height="5" fill="#443b84"/>
<rect x="860" y="235" width="5" height="5" fill="#38598c"/>
<rect x="865" y="235" width="5" height="5" fill="#2c728e"/>
<rect x="870" y="235" width="5" height="5" fill="#1f968b"/>
<rect x="875" y="235" width="5" height="5" fill="#2fb47c"/>
<rect x="880" y="235" width="5" height="5" fill="#9bd93c"/>
<rect x="885" y="235" width="5" height="5" fill="#44bf70"/>
<rect x="890" y="235" width="6" height="5" fill="#38b977"/>
<rect x="896" y="235" width="10" height="5" fill="#28ae80"/>
<rect x="906" y="235" width="5" height="5" fill="#38b977"/>
<rect x="911" y="235" width="5" height="5" fill="#7ad151"/>
<rect x="916" y="235" width="10" height="5" fill="#9bd93c"/>
<rect x="926" y="235" width="6" height="5" fill="#8bd646"/>
<rect x="932" y="235" width="5" height="5" fill="#1e9c89"/>
<rect x="937" y="235" width="5" height="5" fill="#31668e"/>
<rect x="942" y="235" width="5" height="5" fill="#3b528b"/>
<rect x="947" y="235" width="5" height="5" fill="#3e4a89"/>
<rect x="952" y="235" width="5" height="5" fill="#2f6c8e"/>
<rect x="957" y="235" width="6" height="5" fill="#1e9c89"/>
<rect x="963" y="235" width="5" height="5" fill="#2f6c8e"/>
<rect x="968" y="235" width="5" height="5" fill="#463480"/>
<rect x="973" y="235" width="5" height="5" fill="#2c728e"/>
<rect x="834" y="240" width="5" height="5" fill="#2c728e"/>
<rect x="839" y="240" width="5" height="5" fill="#463480"/>
<rect x="844" y="240" width="5" height="5" fill="#481c6e"/>
<rect x="849" y="240" width="5" height="5" fill="#414487"/>
<rect x="854" y="240" width="6" height="5" fill="#355f8d"/>
<rect x="860" y="240" width="5" height="5" fill="#25848e"/>
<rect x="865" y="240" width="5" height="5" fill="#28ae80"/>
<rect x="870" y="240" width="5" height="5" fill="#38b977"/>
<rect x="875" y="240" width="5" height="5" fill="#50c46a"/>
<rect x="880" y="240" width="5" height="5" fill="#8bd646"/>
<rect x="885" y="240" width="5" height="5" fill="#28ae80"/>
<rect x="890" y="240" width="16" height="5" fill="#1fa287"/>
<rect x="906" y="240" width="5" height="5" fill="#2fb47c"/>
<rect x="911" y="240" width="5" height="5" fill="#7ad151"/>
<rect x="916" y="240" width="5" height="5" fill="#efe51c"/>
<rect x="921" y="240" width="5" height="5" fill="#dfe318"/>
<rect x="926" y="240" width="6" height="5" fill="#7ad151"/>
<rect x="932" y="240" width="5" height="5" fill="#28ae80"/>
<rect x="937" y="240" width="5" height="5" fill="#277e8e"/>
<rect x="942" y="240" width="5" height="5" fill="#2f6c8e"/>
<rect x="947" y="240" width="5" height="5" fill="#2a788e"/>
<rect x="952" y="240" width="5" height="5" fill="#7ad151"/>
<rect x="957" y="240" width="6" height="5" fill="#8bd646"/>
<rect x="963" y="240" width="5" height="5" fill="#277e8e"/>
<rect x="968" y="240" width="5" height="5" fill="#463480"/>
<rect x="973" y="240" width="5" height="5" fill="#2c728e"/>
<rect x="834" y="245" width="5" height="5" fill="#2c728e"/>
<rect x="839" y="245" width="5" height="5" fill="#463480"/>
<rect x="844" y="245" width="5" height="5" fill="#472d7b"/>
<rect x="849" y="245" width="5" height="5" fill="#31668e"/>
<rect x="854" y="245" width="6" height="5" fill="#1fa287"/>
<rect x="860" y="245" width="15" height="5" fill="#7ad151"/>
<rect x="875" y="245" width="5" height="5" fill="#28ae80"/>
<rect x="880" y="245" width="21" height="5" fill="#1f968b"/>
<rect x="901" y="245" width="5" height="5" fill="#1e9c89"/>
<rect x="906" y="245" width="5" height="5" fill="#22a884"/>
<rect x="911" y="245" width="5" height="5" fill="#8bd646"/>
<rect x="916" y="245" width="5" height="5" fill="#dfe318"/>
<rect x="921" y="245" width="5" height="5" fill="#addc30"/>
<rect x="926" y="245" width="6" height="5" fill="#7ad151"/>
<rect x="932" y="245" width="5" height="5" fill="#2fb47c"/>
<rect x="937" y="245" width="5" height="5" fill="#1fa287"/>
<rect x="942" y="245" width="5" height="5" fill="#1e9c89"/>
<rect x="947" y="245" width="5" height="5" fill="#2fb47c"/>
<rect x="952" y="245" width="11" height="5" fill="#7ad151"/>
<rect x="963" y="245" width="5" height="5" fill="#277e8e"/>
<rect x="968" y="245" width="5" height="5" fill="#463480"/>
<rect x="973" y="245" width="5" height="5" fill="#2c728e"/>
<rect x="834" y="250" width="5" height="5" fill="#2c728e"/>
<rect x="839" y="250" width="5" height="5" fill="#463480"/>
<rect x="844" y="250" width="5" height="5" fill="#38598c"/>
<rect x="849" y="250" width="5" height="5" fill="#1fa287"/>
<rect x="854" y="250" width="11" height="5" fill="#8bd646"/>
<rect x="865" y="250" width="5" height="5" fill="#7ad151"/>
<rect x="870" y="250" width="5" height="5" fill="#2fb47c"/>
<rect x="875" y="250" width="5" height="5" fill="#1f968b"/>
<rect x="880" y="250" width="21" height="5" fill="#277e8e"/>
<rect x="901" y="250" width="5" height="5" fill="#1f968b"/>
<rect x="906" y="250" width="5" height="5" fill="#1fa287"/>
<rect x="911" y="250" width="5" height="5" fill="#38b977"/>
<rect x="916" y="250" width="5" height="5" fill="#50c46a"/>
<rect x="921" y="250" width="5" height="5" fill="#5ec962"/>
<rect x="926" y="250" width="6" height="5" fill="#50c46a"/>
<rect x="932" y="250" width="5" height="5" fill="#44bf70"/>
<rect x="937" y="250" width="10" height="5" fill="#2fb47c"/>
<rect x="947" y="250" width="5" height="5" fill="#50c46a"/>
<rect x="952" y="250" width="5" height="5" fill="#8bd646"/>
<rect x="957" y="250" width="6" height="5" fill="#7ad151"/>
<rect x="963" y="250" width="5" height="5" fill="#25848e"/>
<rect x="968" y="250" width="5" height="5" fill="#463480"/>
<rect x="973" y="250" width="5" height="5" fill="#2c728e"/>
<rect x="834" y="255" width="5" height="6" fill="#2c728e"/>
<rect x="839" y="255" width="5" height="6" fill="#463480"/>
<rect x="844" y="255" width="5" height="6" fill="#31668e"/>
<rect x="849" y="255" width="5" height="6" fill="#7ad151"/>
<rect x="854" y="255" width="6" height="6" fill="#cde11d"/>
<rect x="860" y="255" width="10" height="6" fill="#7ad151"/>
<rect x="870" y="255" width="5" height="6" fill="#28ae80"/>
<rect x="875" y="255" width="5" height="6" fill="#1f968b"/>
<rect x="880" y="255" width="21" height="6" fill="#277e8e"/>
<rect x="901" y="255" width="5" height="6" fill="#1f968b"/>
<rect x="906" y="255" width="5" height="6" fill="#22a884"/>
<rect x="911" y="255" width="5" height="6" fill="#38b977"/>
<rect x="916" y="255" width="5" height="6" fill="#44bf70"/>
<rect x="921" y="255" width="5" height="6" fill="#50c46a"/>
<rect x="926" y="255" width="6" height="6" fill="#5ec962"/>
<rect x="932" y="255" width="10" height="6" fill="#7ad151"/>
<rect x="942" y="255" width="5" height="6" fill="#50c46a"/>
<rect x="947" y="255" width="5" height="6" fill="#5ec962"/>
<rect x="952" y="255" width="5" height="6" fill="#8bd646"/>
<rect x="957" y="255" width="6" height="6" fill="#44bf70"/>
<rect x="963" y="255" width="5" height="6" fill="#25848e"/>
<rect x="968" y="255" width="5" height="6" fill="#463480"/>
<rect x="973" y="255" width="5" height="6" fill="#2c728e"/>
<rect x="834" y="261" width="5" height="5" fill="#2c728e"/>
<rect x="839" y="261" width="5" height="5" fill="#463480"/>
<rect x="844" y="261" width="5" height="5" fill="#31668e"/>
<rect x="849" y="261" width="5" height="5" fill="#7ad151"/>
<rect x="854" y="261" width="6" height="5" fill="#bddf26"/>
<rect x="860" y="261" width="5" height="5" fill="#8bd646"/>
<rect x="865" y="261" width="5" height="5" fill="#7ad151"/>
<rect x="870" y="261" width="5" height="5" fill="#28ae80"/>
<rect x="875" y="261" width="5" height="5" fill="#1f968b"/>
<rect x="880" y="261" width="16" height="5" fill="#277e8e"/>
<rect x="896" y="261" width="5" height="5" fill="#25848e"/>
<rect x="901" y="261" width="5" height="5" fill="#1e9c89"/>
<rect x="906" y="261" width="5" height="5" fill="#28ae80"/>
<rect x="911" y="261" width="5" height="5" fill="#38b977"/>
<rect x="916" y="261" width="5" height="5" fill="#44bf70"/>
<rect x="921" y="261" width="5" height="5" fill="#50c46a"/>
<rect x="926" y="261" width="11" height="5" fill="#7ad151"/>
<rect x="937" y="261" width="10" height="5" fill="#8bd646"/>
<rect x="947" y="261" width="5" height="5" fill="#50c46a"/>
<rect x="952" y="261" width="5" height="5" fill="#7ad151"/>
<rect x="957" y="261" width="6" height="5" fill="#44bf70"/>
<rect x="963" y="261" width="5" height="5" fill="#2a788e"/>
<rect x="968" y="261" width="5" height="5" fill="#463480"/>
<rect x="973" y="261" width="5" height="5" fill="#2c728e"/>
<rect x="834" y="266" width="5" height="5" fill="#2c728e"/>
<rect x="839" y="266" width="5" height="5" fill="#463480"/>
<rect x="844" y="266" width="5" height="5" fill="#3b528b"/>
<rect x="849" y="266" width="5" height="5" fill="#1f968b"/>
<rect x="854" y="266" width="16" height="5" fill="#7ad151"/>
<rect x="870" y="266" width="5" height="5" fill="#38b977"/>
<rect x="875" y="266" width="5" height="5" fill="#1e9c89"/>
<rect x="880" y="266" width="16" height="5" fill="#1f968b"/>
<rect x="896" y="266" width="5" height="5" fill="#22a884"/>
<rect x="901" y="266" width="5" height="5" fill="#28ae80"/>
<rect x="906" y="266" width="5" height="5" fill="#2fb47c"/>
<rect x="911" y="266" width="5" height="5" fill="#44bf70"/>
<rect x="916" y="266" width="5" height="5" fill="#9bd93c"/>
<rect x="921" y="266" width="5" height="5" fill="#7ad151"/>
<rect x="926" y="266" width="6" height="5" fill="#50c46a"/>
<rect x="932" y="266" width="5" height="5" fill="#2fb47c"/>
<rect x="937" y="266" width="5" height="5" fill="#28ae80"/>
<rect x="942" y="266" width="5" height="5" fill="#22a884"/>
<rect x="947" y="266" width="5" height="5" fill="#28ae80"/>
<rect x="952" y="266" width="5" height="5" fill="#8bd646"/>
<rect x="957" y="266" width="6" height="5" fill="#7ad151"/>
<rect x="963" y="266" width="5" height="5" fill="#2c728e"/>
<rect x="968" y="266" width="5" height="5" fill="#463480"/>
<rect x="973" y="266" width="5" height="5" fill="#2c728e"/>
<rect x="834" y="271" width="5" height="5" fill="#2c728e"/>
<rect x="839" y="271" width="5" height="5" fill="#463480"/>
<rect x="844" y="271" width="5" height="5" fill="#472d7b"/>
<rect x="849" y="271" width="5" height="5" fill="#31668e"/>
<rect x="854" y="271" width="6" height="5" fill="#1e9c89"/>
<rect x="860" y="271" width="5" height="5" fill="#2fb47c"/>
<rect x="865" y="271" width="5" height="5" fill="#44bf70"/>
<rect x="870" y="271" width="5" height="5" fill="#38b977"/>
<rect x="875" y="271" width="5" height="5" fill="#28ae80"/>
<rect x="880" y="271" width="10" height="5" fill="#1e9c89"/>
<rect x="890" y="271" width="6" height="5" fill="#2fb47c"/>
<rect x="896" y="271" width="5" height="5" fill="#50c46a"/>
<rect x="901" y="271" width="5" height="5" fill="#38b977"/>
<rect x="906" y="271" width="5" height="5" fill="#28ae80"/>
<rect x="911" y="271" width="5" height="5" fill="#7ad151"/>
<rect x="916" y="271" width="5" height="5" fill="#efe51c"/>
<rect x="921" y="271" width="5" height="5" fill="#cde11d"/>
<rect x="926" y="271" width="6" height="5" fill="#38b977"/>
<rect x="932" y="271" width="5" height="5" fill="#1e9c89"/>
<rect x="937" y="271" width="5" height="5" fill="#2c728e"/>
<rect x="942" y="271" width="5" height="5" fill="#31668e"/>
<rect x="947" y="271" width="5" height="5" fill="#2c728e"/>
<rect x="952" y="271" width="5" height="5" fill="#38b977"/>
<rect x="957" y="271" width="6" height="5" fill="#9bd93c"/>
<rect x="963" y="271" width="5" height="5" fill="#2c728e"/>
<rect x="968" y="271" width="5" height="5" fill="#463480"/>
<rect x="973" y="271" width="5" height="5" fill="#2c728e"/>
<rect x="834" y="276" width="5" height="5" fill="#2c728e"/>
<rect x="839" y="276" width="5" height="5" fill="#463480"/>
<rect x="844" y="276" width="5" height="5" fill="#481c6e"/>
<rect x="849" y="276" width="5" height="5" fill="#414487"/>
<rect x="854" y="276" width="6" height="5" fill="#355f8d"/>
<rect x="860" y="276" width="5" height="5" fill="#2a788e"/>
<rect x="865" y="276" width="5" height="5" fill="#1e9c89"/>
<rect x="870" y="276" width="5" height="5" fill="#28ae80"/>
<rect x="875" y="276" width="5" height="5" fill="#2fb47c"/>
<rect x="880" y="276" width="5" height="5" fill="#8bd646"/>
<rect x="885" y="276" width="5" height="5" fill="#38b977"/>
<rect x="890" y="276" width="6" height="5" fill="#2fb47c"/>
<rect x="896" y="276" width="5" height="5" fill="#28ae80"/>
<rect x="901" y="276" width="5" height="5" fill="#22a884"/>
<rect x="906" y="276" width="5" height="5" fill="#1fa287"/>
<rect x="911" y="276" width="5" height="5" fill="#28ae80"/>
<rect x="916" y="276" width="5" height="5" fill="#44bf70"/>
<rect x="921" y="276" width="5" height="5" fill="#38b977"/>
<rect x="926" y="276" width="6" height="5" fill="#1fa287"/>
<rect x="932" y="276" width="5" height="5" fill="#2f6c8e"/>
<rect x="937" y="276" width="5" height="5" fill="#3b528b"/>
<rect x="942" y="276" width="5" height="5" fill="#414487"/>
<rect x="947" y="276" width="5" height="5" fill="#3e4a89"/>
<rect x="952" y="276" width="5" height="5" fill="#2c728e"/>
<rect x="957" y="276" width="6" height="5" fill="#7ad151"/>
<rect x="963" y="276" width="5" height="5" fill="#2f6c8e"/>
<rect x="968" y="276" width="5" height="5" fill="#463480"/>
<rect x="973" y="276" width="5" height="5" fill="#2c728e"/>
<rect x="834" y="281" width="5" height="5" fill="#2c728e"/>
<rect x="839" y="281" width="5" height="5" fill="#463480"/>
<rect x="844" y="281" width="5" height="5" fill="#481c6e"/>
<rect x="849" y="281" width="5" height="5" fill="#471365"/>
<rect x="854" y="281" width="6" height="5" fill="#482475"/>
<rect x="860" y="281" width="5" height="5" fill="#3e4a89"/>
<rect x="865" y="281" width="5" height="5" fill="#355f8d"/>
<rect x="870" y="281" width="5" height="5" fill="#2c728e"/>
<rect x="875" y="281" width="5" height="5" fill="#25848e"/>
<rect x="880" y="281" width="5" height="5" fill="#22a884"/>
<rect x="885" y="281" width="5" height="5" fill="#1e9c89"/>
<rect x="890" y="281" width="6" height="5" fill="#25848e"/>
<rect x="896" y="281" width="15" height="5" fill="#2a788e"/>
<rect x="911" y="281" width="5" height="5" fill="#277e8e"/>
<rect x="916" y="281" width="10" height="5" fill="#25848e"/>
<rect x="926" y="281" width="6" height="5" fill="#2a788e"/>
<rect x="932" y="281" width="5" height="5" fill="#38598c"/>
<rect x="937" y="281" width="5" height="5" fill="#463480"/>
<rect x="942" y="281" width="5" height="5" fill="#481c6e"/>
<rect x="947" y="281" width="5" height="5" fill="#472d7b"/>
<rect x="952" y="281" width="5" height="5" fill="#443b84"/>
<rect x="957" y="281" width="6" height="5" fill="#3b528b"/>
<rect x="963" y="281" width="5" height="5" fill="#414487"/>
<rect x="968" y="281" width="5" height="5" fill="#463480"/>
<rect x="973" y="281" width="5" height="5" fill="#2c728e"/>
<rect x="834" y="286" width="5" height="6" fill="#2c728e"/>
<rect x="839" y="286" width="5" height="6" fill="#463480"/>
<rect x="844" y="286" width="5" height="6" fill="#481c6e"/>
<rect x="849" y="286" width="11" height="6" fill="#460a5d"/>
<rect x="860" y="286" width="5" height="6" fill="#471365"/>
<rect x="865" y="286" width="5" height="6" fill="#472d7b"/>
<rect x="870" y="286" width="5" height="6" fill="#414487"/>
<rect x="875" y="286" width="5" height="6" fill="#38598c"/>
<rect x="880" y="286" width="10" height="6" fill="#355f8d"/>
<rect x="890" y="286" width="6" height="6" fill="#38598c"/>
<rect x="896" y="286" width="15" height="6" fill="#3b528b"/>
<rect x="911" y="286" width="10" height="6" fill="#38598c"/>
<rect x="921" y="286" width="5" height="6" fill="#3b528b"/>
<rect x="926" y="286" width="6" height="6" fill="#3e4a89"/>
<rect x="932" y="286" width="5" height="6" fill="#463480"/>
<rect x="937" y="286" width="5" height="6" fill="#471365"/>
<rect x="942" y="286" width="10" height="6" fill="#460a5d"/>
<rect x="952" y="286" width="11" height="6" fill="#471365"/>
<rect x="963" y="286" width="5" height="6" fill="#481c6e"/>
<rect x="968" y="286" width="5" height="6" fill="#463480"/>
<rect x="973" y="286" width="5" height="6" fill="#2c728e"/>
<rect x="834" y="292" width="5" height="5" fill="#2c728e"/>
<rect x="839" y="292" width="5" height="5" fill="#463480"/>
<rect x="844" y="292" width="5" height="5" fill="#481c6e"/>
<rect x="849" y="292" width="21" height="5" fill="#460a5d"/>
<rect x="870" y="292" width="5" height="5" fill="#471365"/>
<rect x="875" y="292" width="5" height="5" fill="#472d7b"/>
<rect x="880" y="292" width="10" height="5" fill="#463480"/>
<rect x="890" y="292" width="6" height="5" fill="#472d7b"/>
<rect x="896" y="292" width="30" height="5" fill="#481c6e"/>
<rect x="926" y="292" width="11" height="5" fill="#471365"/>
<rect x="937" y="292" width="26" height="5" fill="#460a5d"/>
<rect x="963" y="292" width="5" height="5" fill="#481c6e"/>
<rect x="968" y="292" width="5" height="5" fill="#463480"/>
<rect x="973" y="292" width="5" height="5" fill="#2c728e"/>
<rect x="834" y="297" width="5" height="5" fill="#2c728e"/>
<rect x="839" y="297" width="5" height="5" fill="#463480"/>
<rect x="844" y="297" width="5" height="5" fill="#481c6e"/>
<rect x="849" y="297" width="31" height="5" fill="#460a5d"/>
<rect x="880" y="297" width="10" height="5" fill="#471365"/>
<rect x="890" y="297" width="73" height="5" fill="#460a5d"/>
<rect x="963" y="297" width="5" height="5" fill="#481c6e"/>
<rect x="968" y="297" width="5" height="5" fill="#463480"/>
<rect x="973" y="297" width="5" height="5" fill="#2c728e"/>
<rect x="834" y="302" width="5" height="5" fill="#2c728e"/>
<rect x="839" y="302" width="5" height="5" fill="#463480"/>
<rect x="844" y="302" width="5" height="5" fill="#481c6e"/>
<rect x="849" y="302" width="114" height="5" fill="#460a5d"/>
<rect x="963" y="302" width="5" height="5" fill="#481c6e"/>
<rect x="968" y="302" width="5" height="5" fill="#463480"/>
<rect x="973" y="302" width="5" height="5" fill="#2c728e"/>
<rect x="834" y="307" width="5" height="5" fill="#2c728e"/>
<rect x="839" y="307" width="5" height="5" fill="#463480"/>
<rect x="844" y="307" width="5" height="5" fill="#481c6e"/>
<rect x="849" y="307" width="114" height="5" fill="#460a5d"/>
<rect x="963" y="307" width="5" height="5" fill="#481c6e"/>
<rect x="968" y="307" width="5" height="5" fill="#463480"/>
<rect x="973" y="307" width="5" height="5" fill="#2c728e"/>
<rect x="834" y="312" width="5" height="5" fill="#2c728e"/>
<rect x="839" y="312" width="5" height="5" fill="#463480"/>
<rect x="844" y="312" width="124" height="5" fill="#481c6e"/>
<rect x="968" y="312" width="5" height="5" fill="#463480"/>
<rect x="973" y="312" width="5" height="5" fill="#2c728e"/>
<rect x="834" y="317" width="5" height="5" fill="#2c728e"/>
<rect x="839" y="317" width="5" height="5" fill="#463480"/>
<rect x="844" y="317" width="124" height="5" fill="#481c6e"/>
<rect x="968" y="317" width="5" height="5" fill="#463480"/>
<rect x="973" y="317" width="5" height="5" fill="#2c728e"/>
<rect x="834" y="322" width="5" height="6" fill="#2c728e"/>
<rect x="839" y="322" width="134" height="6" fill="#463480"/>
<rect x="973" y="322" width="5" height="6" fill="#2c728e"/>
<rect x="834" y="328" width="5" height="5" fill="#8bd646"/>
<rect x="839" y="328" width="134" height="5" fill="#2c728e"/>
<rect x="973" y="328" width="5" height="5" fill="#8bd646"/>
</g>
<g shape-rendering="crispEdges">
<rect x="834" y="350" width="5" height="5" fill="#8bd646"/>
<rect x="839" y="350" width="134" height="5" fill="#2c728e"/>
<rect x="973" y="350" width="5" height="5" fill="#8bd646"/>
<rect x="834" y="355" width="5" height="5" fill="#2c728e"/>
<rect x="839" y="355" width="134" height="5" fill="#463480"/>
<rect x="973" y="355" width="5" height="5" fill="#2c728e"/>
<rect x="834" y="360" width="5" height="5" fill="#2c728e"/>
<rect x="839" y="360" width="5" height="5" fill="#463480"/>
<rect x="844" y="360" width="124" height="5" fill="#481c6e"/>
<rect x="968" y="360" width="5" height="5" fill="#463480"/>
<rect x="973" y="360" width="5" height="5" fill="#2c728e"/>
<rect x="834" y="365" width="5" height="6" fill="#2c728e"/>
<rect x="839" y="365" width="5" height="6" fill="#463480"/>
<rect x="844" y="365" width="124" height="6" fill="#481c6e"/>
<rect x="968" y="365" width="5" height="6" fill="#463480"/>
<rect x="973" y="365" width="5" height="6" fill="#2c728e"/>
<rect x="834" y="371" width="5" height="5" fill="#2c728e"/>
<rect x="839" y="371" width="5" height="5" fill="#463480"/>
<rect x="844" y="371" width="5" height="5" fill="#481c6e"/>
<rect x="849" y="371" width="114" height="5" fill="#460a5d"/>
<rect x="963" y="371" width="5" height="5" fill="#481c6e"/>
<rect x="968" y="371" width="5" height="5" fill="#463480"/>
<rect x="973" y="371" width="5" height="5" fill="#2c728e"/>
<rect x="834" y="376" width="5" height="5" fill="#2c728e"/>
<rect x="839" y="376" width="5" height="5" fill="#463480"/>
<rect x="844" y="376" width="5" height="5" fill="#481c6e"/>
<rect x="849" y="376" width="114" height="5" fill="#460a5d"/>
<rect x="963" y="376" width="5" height="5" fill="#481c6e"/>
<rect x="968" y="376" width="5" height="5" fill="#463480"/>
<rect x="973" y="376" width="5" height="5" fill="#2c728e"/>
<rect x="834" y="381" width="5" height="5" fill="#2c728e"/>
<rect x="839" y="381" width="5" height="5" fill="#463480"/>
<rect x="844" y="381" width="5" height="5" fill="#481c6e"/>
<rect x="849" y="381" width="21" height="5" fill="#460a5d"/>
<rect x="870" y="381" width="5" height="5" fill="#471365"/>
<rect x="875" y="381" width="5" height="5" fill="#482475"/>
<rect x="880" y="381" width="5" height="5" fill="#472d7b"/>
<rect x="885" y="381" width="11" height="5" fill="#463480"/>
<rect x="896" y="381" width="5" height="5" fill="#472d7b"/>
<rect x="901" y="381" width="5" height="5" fill="#481c6e"/>
<rect x="906" y="381" width="5" height="5" fill="#471365"/>
<rect x="911" y="381" width="52" height="5" fill="#460a5d"/>
<rect x="963" y="381" width="5" height="5" fill="#481c6e"/>
<rect x="968" y="381" width="5" height="5" fill="#463480"/>
<rect x="973" y="381" width="5" height="5" fill="#2c728e"/>
<rect x="834" y="386" width="5" height="5" fill="#2c728e"/>
<rect x="839" y="386" width="5" height="5" fill="#463480"/>
<rect x="844" y="386" width="5" height="5" fill="#481c6e"/>
<rect x="849" y="386" width="16" height="5" fill="#460a5d"/>
<rect x="865" y="386" width="5" height="5" fill="#471365"/>
<rect x="870" y="386" width="5" height="5" fill="#463480"/>
<rect x="875" y="386" width="5" height="5" fill="#3b528b"/>
<rect x="880" y="386" width="5" height="5" fill="#355f8d"/>
<rect x="885" y="386" width="11" height="5" fill="#31668e"/>
<rect x="896" y="386" width="5" height="5" fill="#355f8d"/>
<rect x="901" y="386" width="5" height="5" fill="#3b528b"/>
<rect x="906" y="386" width="5" height="5" fill="#443b84"/>
<rect x="911" y="386" width="15" height="5" fill="#482475"/>
<rect x="926" y="386" width="6" height="5" fill="#481c6e"/>
<rect x="932" y="386" width="5" height="5" fill="#471365"/>
<rect x="937" y="386" width="10" height="5" fill="#460a5d"/>
<rect x="947" y="386" width="16" height="5" fill="#471365"/>
<rect x="963" y="386" width="5" height="5" fill="#481c6e"/>
<rect x="968" y="386" width="5" height="5" fill="#463480"/>
<rect x="973" y="386" width="5" height="5" fill="#2c728e"/>
<rect x="834" y="391" width="5" height="5" fill="#2c728e"/>
<rect x="839" y="391" width="5" height="5" fill="#463480"/>
<rect x="844" y="391" width="5" height="5" fill="#481c6e"/>
<rect x="849" y="391" width="5" height="5" fill="#460a5d"/>
<rect x="854" y="391" width="6" height="5" fill="#471365"/>
<rect x="860" y="391" width="5" height="5" fill="#472d7b"/>
<rect x="865" y="391" width="5" height="5" fill="#414487"/>
<rect x="870" y="391" width="5" height="5" fill="#355f8d"/>
<rect x="875" y="391" width="5" height="5" fill="#2a788e"/>
<rect x="880" y="391" width="5" height="5" fill="#1e9c89"/>
<rect x="885" y="391" width="5" height="5" fill="#8bd646"/>
<rect x="890" y="391" width="6" height="5" fill="#1fa287"/>
<rect x="896" y="391" width="5" height="5" fill="#21918c"/>
<rect x="901" y="391" width="5" height="5" fill="#2c728e"/>
<rect x="906" y="391" width="5" height="5" fill="#31668e"/>
<rect x="911" y="391" width="15" height="5" fill="#355f8d"/>
<rect x="926" y="391" width="6" height="5" fill="#38598c"/>
<rect x="932" y="391" width="5" height="5" fill="#414487"/>
<rect x="937" y="391" width="10" height="5" fill="#482475"/>
<rect x="947" y="391" width="5" height="5" fill="#463480"/>
<rect x="952" y="391" width="11" height="5" fill="#414487"/>
<rect x="963" y="391" width="5" height="5" fill="#482475"/>
<rect x="968" y="391" width="5" height="5" fill="#463480"/>
<rect x="973" y="391" width="5" height="5" fill="#2c728e"/>
<rect x="834" y="396" width="5" height="6" fill="#2c728e"/>
<rect x="839" y="396" width="5" height="6" fill="#463480"/>
<rect x="844" y="396" width="5" height="6" fill="#481c6e"/>
<rect x="849" y="396" width="5" height="6" fill="#472d7b"/>
<rect x="854" y="396" width="6" height="6" fill="#414487"/>
<rect x="860" y="396" width="5" height="6" fill="#38598c"/>
<rect x="865" y="396" width="5" height="6" fill="#2f6c8e"/>
<rect x="870" y="396" width="5" height="6" fill="#25848e"/>
<rect x="875" y="396" width="5" height="6" fill="#22a884"/>
<rect x="880" y="396" width="5" height="6" fill="#38b977"/>
<rect x="885" y="396" width="5" height="6" fill="#efe51c"/>
<rect x="890" y="396" width="6" height="6" fill="#38b977"/>
<rect x="896" y="396" width="5" height="6" fill="#22a884"/>
<rect x="901" y="396" width="5" height="6" fill="#1f968b"/>
<rect x="906" y="396" width="5" height="6" fill="#25848e"/>
<rect x="911" y="396" width="5" height="6" fill="#21918c"/>
<rect x="916" y="396" width="5" height="6" fill="#1f968b"/>
<rect x="921" y="396" width="5" height="6" fill="#21918c"/>
<rect x="926" y="396" width="6" height="6" fill="#277e8e"/>
<rect x="932" y="396" width="5" height="6" fill="#2f6c8e"/>
<rect x="937" y="396" width="10" height="6" fill="#38598c"/>
<rect x="947" y="396" width="5" height="6" fill="#31668e"/>
<rect x="952" y="396" width="11" height="6" fill="#277e8e"/>
<rect x="963" y="396" width="5" height="6" fill="#38598c"/>
<rect x="968" y="396" width="5" height="6" fill="#463480"/>
<rect x="973" y="396" width="5" height="6" fill="#2c728e"/>
<rect x="834" y="402" width="5" height="5" fill="#2c728e"/>
<rect x="839" y="402" width="5" height="5" fill="#463480"/>
<rect x="844" y="402" width="5" height="5" fill="#443b84"/>
<rect x="849" y="402" width="5" height="5" fill="#3b528b"/>
<rect x="854" y="402" width="6" height="5" fill="#2f6c8e"/>
<rect x="860" y="402" width="5" height="5" fill="#25848e"/>
<rect x="865" y="402" width="5" height="5" fill="#1fa287"/>
<rect x="870" y="402" width="10" height="5" fill="#22a884"/>
<rect x="880" y="402" width="5" height="5" fill="#28ae80"/>
<rect x="885" y="402" width="5" height="5" fill="#cde11d"/>
<rect x="890" y="402" width="6" height="5" fill="#28ae80"/>
<rect x="896" y="402" width="15" height="5" fill="#1f968b"/>
<rect x="911" y="402" width="5" height="5" fill="#1fa287"/>
<rect x="916" y="402" width="10" height="5" fill="#2fb47c"/>
<rect x="926" y="402" width="6" height="5" fill="#28ae80"/>
<rect x="932" y="402" width="5" height="5" fill="#1e9c89"/>
<rect x="937" y="402" width="10" height="5" fill="#277e8e"/>
<rect x="947" y="402" width="5" height="5" fill="#22a884"/>
<rect x="952" y="402" width="5" height="5" fill="#8bd646"/>
<rect x="957" y="402" width="6" height="5" fill="#22a884"/>
<rect x="963" y="402" width="5" height="5" fill="#31668e"/>
<rect x="968" y="402" width="5" height="5" fill="#463480"/>
<rect x="973" y="402" width="5" height="5" fill="#2c728e"/>
<rect x="834" y="407" width="5" height="5" fill="#2c728e"/>
<rect x="839" y="407" width="5" height="5" fill="#463480"/>
<rect x="844" y="407" width="5" height="5" fill="#38598c"/>
<rect x="849" y="407" width="5" height="5" fill="#2a788e"/>
<rect x="854" y="407" width="6" height="5" fill="#28ae80"/>
<rect x="860" y="407" width="10" height="5" fill="#38b977"/>
<rect x="870" y="407" width="5" height="5" fill="#22a884"/>
<rect x="875" y="407" width="36" height="5" fill="#1f968b"/>
<rect x="911" y="407" width="5" height="5" fill="#22a884"/>
<rect x="916" y="407" width="5" height="5" fill="#44bf70"/>
<rect x="921" y="407" width="11" height="5" fill="#7ad151"/>
<rect x="932" y="407" width="5" height="5" fill="#38b977"/>
<rect x="937" y="407" width="10" height="5" fill="#28ae80"/>
<rect x="947" y="407" width="5" height="5" fill="#7ad151"/>
<rect x="952" y="407" width="5" height="5" fill="#fde725"/>
<rect x="957" y="407" width="6" height="5" fill="#38b977"/>
<rect x="963" y="407" width="5" height="5" fill="#2f6c8e"/>
<rect x="968" y="407" width="5" height="5" fill="#463480"/>
<rect x="973" y="407" width="5" height="5" fill="#2c728e"/>
<rect x="834" y="412" width="5" height="5" fill="#2c728e"/>
<rect x="839" y="412" width="5" height="5" fill="#463480"/>
<rect x="844" y="412" width="5" height="5" fill="#2f6c8e"/>
<rect x="849" y="412" width="5" height="5" fill="#38b977"/>
<rect x="854" y="412" width="11" height="5" fill="#50c46a"/>
<rect x="865" y="412" width="5" height="5" fill="#2fb47c"/>
<rect x="870" y="412" width="10" height="5" fill="#1f968b"/>
<rect x="880" y="412" width="21" height="5" fill="#277e8e"/>
<rect x="901" y="412" width="10" height="5" fill="#1f968b"/>
<rect x="911" y="412" width="5" height="5" fill="#22a884"/>
<rect x="916" y="412" width="21" height="5" fill="#7ad151"/>
<rect x="937" y="412" width="5" height="5" fill="#50c46a"/>
<rect x="942" y="412" width="5" height="5" fill="#44bf70"/>
<rect x="947" y="412" width="5" height="5" fill="#50c46a"/>
<rect x="952" y="412" width="5" height="5" fill="#8bd646"/>
<rect x="957" y="412" width="6" height="5" fill="#38b977"/>
<rect x="963" y="412" width="5" height="5" fill="#2c728e"/>
<rect x="968" y="412" width="5" height="5" fill="#463480"/>
<rect x="973" y="412" width="5" height="5" fill="#2c728e"/>
<rect x="834" y="417" width="5" height="5" fill="#2c728e"/>
<rect x="839" y="417" width="5" height="5" fill="#463480"/>
<rect x="844" y="417" width="5" height="5" fill="#2f6c8e"/>
<rect x="849" y="417" width="5" height="5" fill="#dfe318"/>
<rect x="854" y="417" width="6" height="5" fill="#7ad151"/>
<rect x="860" y="417" width="5" height="5" fill="#50c46a"/>
<rect x="865" y="417" width="5" height="5" fill="#2fb47c"/>
<rect x="870" y="417" width="10" height="5" fill="#1f968b"/>
<rect x="880" y="417" width="21" height="5" fill="#277e8e"/>
<rect x="901" y="417" width="10" height="5" fill="#1f968b"/>
<rect x="911" y="417" width="5" height="5" fill="#1fa287"/>
<rect x="916" y="417" width="5" height="5" fill="#44bf70"/>
<rect x="921" y="417" width="5" height="5" fill="#7ad151"/>
<rect x="926" y="417" width="6" height="5" fill="#8bd646"/>
<rect x="932" y="417" width="5" height="5" fill="#7ad151"/>
<rect x="937" y="417" width="5" height="5" fill="#50c46a"/>
<rect x="942" y="417" width="10" height="5" fill="#44bf70"/>
<rect x="952" y="417" width="5" height="5" fill="#50c46a"/>
<rect x="957" y="417" width="6" height="5" fill="#2fb47c"/>
<rect x="963" y="417" width="5" height="5" fill="#2c728e"/>
<rect x="968" y="417" width="5" height="5" fill="#463480"/>
<rect x="973" y="417" width="5" height="5" fill="#2c728e"/>
<rect x="834" y="422" width="5" height="5" fill="#2c728e"/>
<rect x="839" y="422" width="5" height="5" fill="#463480"/>
<rect x="844" y="422" width="5" height="5" fill="#31668e"/>
<rect x="849" y="422" width="11" height="5" fill="#7ad151"/>
<rect x="860" y="422" width="5" height="5" fill="#5ec962"/>
<rect x="865" y="422" width="5" height="5" fill="#44bf70"/>
<rect x="870" y="422" width="5" height="5" fill="#1fa287"/>
<rect x="875" y="422" width="5" height="5" fill="#1f968b"/>
<rect x="880" y="422" width="21" height="5" fill="#277e8e"/>
<rect x="901" y="422" width="10" height="5" fill="#1f968b"/>
<rect x="911" y="422" width="5" height="5" fill="#22a884"/>
<rect x="916" y="422" width="5" height="5" fill="#2fb47c"/>
<rect x="921" y="422" width="21" height="5" fill="#50c46a"/>
<rect x="942" y="422" width="15" height="5" fill="#44bf70"/>
<rect x="957" y="422" width="6" height="5" fill="#28ae80"/>
<rect x="963" y="422" width="5" height="5" fill="#2c728e"/>
<rect x="968" y="422" width="5" height="5" fill="#463480"/>
<rect x="973" y="422" width="5" height="5" fill="#2c728e"/>
<rect x="834" y="427" width="5" height="6" fill="#2c728e"/>
<rect x="839" y="427" width="5" height="6" fill="#463480"/>
<rect x="844" y="427" width="5" height="6" fill="#3e4a89"/>
<rect x="849" y="427" width="5" height="6" fill="#2a788e"/>
<rect x="854" y="427" width="6" height="6" fill="#28ae80"/>
<rect x="860" y="427" width="5" height="6" fill="#44bf70"/>
<rect x="865" y="427" width="5" height="6" fill="#50c46a"/>
<rect x="870" y="427" width="5" height="6" fill="#38b977"/>
<rect x="875" y="427" width="5" height="6" fill="#1fa287"/>
<rect x="880" y="427" width="26" height="6" fill="#1f968b"/>
<rect x="906" y="427" width="5" height="6" fill="#1fa287"/>
<rect x="911" y="427" width="5" height="6" fill="#22a884"/>
<rect x="916" y="427" width="5" height="6" fill="#28ae80"/>
<rect x="921" y="427" width="5" height="6" fill="#7ad151"/>
<rect x="926" y="427" width="6" height="6" fill="#38b977"/>
<rect x="932" y="427" width="5" height="6" fill="#2fb47c"/>
<rect x="937" y="427" width="5" height="6" fill="#38b977"/>
<rect x="942" y="427" width="10" height="6" fill="#28ae80"/>
<rect x="952" y="427" width="5" height="6" fill="#44bf70"/>
<rect x="957" y="427" width="6" height="6" fill="#28ae80"/>
<rect x="963" y="427" width="5" height="6" fill="#2f6c8e"/>
<rect x="968" y="427" width="5" height="6" fill="#463480"/>
<rect x="973" y="427" width="5" height="6" fill="#2c728e"/>
<rect x="834" y="433" width="5" height="5" fill="#2c728e"/>
<rect x="839" y="433" width="5" height="5" fill="#463480"/>
<rect x="844" y="433" width="5" height="5" fill="#482475"/>
<rect x="849" y="433" width="5" height="5" fill="#38598c"/>
<rect x="854" y="433" width="6" height="5" fill="#2c728e"/>
<rect x="860" y="433" width="5" height="5" fill="#1e9c89"/>
<rect x="865" y="433" width="5" height="5" fill="#2fb47c"/>
<rect x="870" y="433" width="5" height="5" fill="#44bf70"/>
<rect x="875" y="433" width="5" height="5" fill="#38b977"/>
<rect x="880" y="433" width="5" height="5" fill="#2fb47c"/>
<rect x="885" y="433" width="5" height="5" fill="#28ae80"/>
<rect x="890" y="433" width="26" height="5" fill="#22a884"/>
<rect x="916" y="433" width="5" height="5" fill="#28ae80"/>
<rect x="921" y="433" width="5" height="5" fill="#7ad151"/>
<rect x="926" y="433" width="6" height="5" fill="#22a884"/>
<rect x="932" y="433" width="5" height="5" fill="#277e8e"/>
<rect x="937" y="433" width="5" height="5" fill="#2a788e"/>
<rect x="942" y="433" width="5" height="5" fill="#2f6c8e"/>
<rect x="947" y="433" width="5" height="5" fill="#2a788e"/>
<rect x="952" y="433" width="11" height="5" fill="#7ad151"/>
<rect x="963" y="433" width="5" height="5" fill="#31668e"/>
<rect x="968" y="433" width="5" height="5" fill="#463480"/>
<rect x="973" y="433" width="5" height="5" fill="#2c728e"/>
<rect x="834" y="438" width="5" height="5" fill="#2c728e"/>
<rect x="839" y="438" width="5" height="5" fill="#463480"/>
<rect x="844" y="438" width="5" height="5" fill="#481c6e"/>
<rect x="849" y="438" width="5" height="5" fill="#482475"/>
<rect x="854" y="438" width="6" height="5" fill="#3e4a89"/>
<rect x="860" y="438" width="5" height="5" fill="#355f8d"/>
<rect x="865" y="438" width="5" height="5" fill="#2a788e"/>
<rect x="870" y="438" width="5" height="5" fill="#1fa287"/>
<rect x="875" y="438" width="5" height="5" fill="#2fb47c"/>
<rect x="880" y="438" width="5" height="5" fill="#bddf26"/>
<rect x="885" y="438" width="5" height="5" fill="#44bf70"/>
<rect x="890" y="438" width="6" height="5" fill="#28ae80"/>
<rect x="896" y="438" width="5" height="5" fill="#22a884"/>
<rect x="901" y="438" width="5" height="5" fill="#1e9c89"/>
<rect x="906" y="438" width="10" height="5" fill="#1f968b"/>
<rect x="916" y="438" width="5" height="5" fill="#21918c"/>
<rect x="921" y="438" width="5" height="5" fill="#25848e"/>
<rect x="926" y="438" width="6" height="5" fill="#2c728e"/>
<rect x="932" y="438" width="5" height="5" fill="#355f8d"/>
<rect x="937" y="438" width="5" height="5" fill="#3e4a89"/>
<rect x="942" y="438" width="5" height="5" fill="#414487"/>
<rect x="947" y="438" width="5" height="5" fill="#38598c"/>
<rect x="952" y="438" width="11" height="5" fill="#2c728e"/>
<rect x="963" y="438" width="5" height="5" fill="#3b528b"/>
<rect x="968" y="438" width="5" height="5" fill="#463480"/>
<rect x="973" y="438" width="5" height="5" fill="#2c728e"/>
<rect x="834" y="443" width="5" height="5" fill="#2c728e"/>
<rect x="839" y="443" width="5" height="5" fill="#463480"/>
<rect x="844" y="443" width="5" height="5" fill="#481c6e"/>
<rect x="849" y="443" width="5" height="5" fill="#460a5d"/>
<rect x="854" y="443" width="6" height="5" fill="#481c6e"/>
<rect x="860" y="443" width="5" height="5" fill="#443b84"/>
<rect x="865" y="443" width="5" height="5" fill="#38598c"/>
<rect x="870" y="443" width="5" height="5" fill="#2f6c8e"/>
<rect x="875" y="443" width="5" height="5" fill="#25848e"/>
<rect x="880" y="443" width="5" height="5" fill="#8bd646"/>
<rect x="885" y="443" width="5" height="5" fill="#1e9c89"/>
<rect x="890" y="443" width="6" height="5" fill="#2a788e"/>
<rect x="896" y="443" width="5" height="5" fill="#2c728e"/>
<rect x="901" y="443" width="5" height="5" fill="#2f6c8e"/>
<rect x="906" y="443" width="10" height="5" fill="#31668e"/>
<rect x="916" y="443" width="5" height="5" fill="#355f8d"/>
<rect x="921" y="443" width="5" height="5" fill="#38598c"/>
<rect x="926" y="443" width="6" height="5" fill="#3e4a89"/>
<rect x="932" y="443" width="5" height="5" fill="#443b84"/>
<rect x="937" y="443" width="10" height="5" fill="#481c6e"/>
<rect x="947" y="443" width="5" height="5" fill="#482475"/>
<rect x="952" y="443" width="11" height="5" fill="#443b84"/>
<rect x="963" y="443" width="5" height="5" fill="#482475"/>
<rect x="968" y="443" width="5" height="5" fill="#463480"/>
<rect x="973" y="443" width="5" height="5" fill="#2c728e"/>
<rect x="834" y="448" width="5" height="5" fill="#2c728e"/>
<rect x="839" y="448" width="5" height="5" fill="#463480"/>
<rect x="844" y="448" width="5" height="5" fill="#481c6e"/>
<rect x="849" y="448" width="11" height="5" fill="#460a5d"/>
<rect x="860" y="448" width="5" height="5" fill="#471365"/>
<rect x="865" y="448" width="5" height="5" fill="#472d7b"/>
<rect x="870" y="448" width="5" height="5" fill="#3e4a89"/>
<rect x="875" y="448" width="5" height="5" fill="#355f8d"/>
<rect x="880" y="448" width="5" height="5" fill="#31668e"/>
<rect x="885" y="448" width="5" height="5" fill="#355f8d"/>
<rect x="890" y="448" width="6" height="5" fill="#3b528b"/>
<rect x="896" y="448" width="5" height="5" fill="#3e4a89"/>
<rect x="901" y="448" width="5" height="5" fill="#443b84"/>
<rect x="906" y="448" width="15" height="5" fill="#463480"/>
<rect x="921" y="448" width="5" height="5" fill="#482475"/>
<rect x="926" y="448" width="6" height="5" fill="#481c6e"/>
<rect x="932" y="448" width="5" height="5" fill="#471365"/>
<rect x="937" y="448" width="15" height="5" fill="#460a5d"/>
<rect x="952" y="448" width="11" height="5" fill="#471365"/>
<rect x="963" y="448" width="5" height="5" fill="#481c6e"/>
<rect x="968" y="448" width="5" height="5" fill="#463480"/>
<rect x="973" y="448" width="5" height="5" fill="#2c728e"/>
<rect x="834" y="453" width="5" height="5" fill="#2c728e"/>
<rect x="839" y="453" width="5" height="5" fill="#463480"/>
<rect x="844" y="453" width="5" height="5" fill="#481c6e"/>
<rect x="849" y="453" width="21" height="5" fill="#460a5d"/>
<rect x="870" y="453" width="5" height="5" fill="#482475"/>
<rect x="875" y="453" width="5" height="5" fill="#463480"/>
<rect x="880" y="453" width="5" height="5" fill="#443b84"/>
<rect x="885" y="453" width="5" height="5" fill="#463480"/>
<rect x="890" y="453" width="6" height="5" fill="#482475"/>
<rect x="896" y="453" width="5" height="5" fill="#481c6e"/>
<rect x="901" y="453" width="10" height="5" fill="#471365"/>
<rect x="911" y="453" width="52" height="5" fill="#460a5d"/>
<rect x="963" y="453" width="5" height="5" fill="#481c6e"/>
<rect x="968" y="453" width="5" height="5" fill="#463480"/>
<rect x="973" y="453" width="5" height="5" fill="#2c728e"/>
<rect x="834" y="458" width="5" height="5" fill="#2c728e"/>
<rect x="839" y="458" width="5" height="5" fill="#463480"/>
<rect x="844" y="458" width="5" height="5" fill="#481c6e"/>
<rect x="849" y="458" width="26" height="5" fill="#460a5d"/>
<rect x="875" y="458" width="15" height="5" fill="#471365"/>
<rect x="890" y="458" width="73" height="5" fill="#460a5d"/>
<rect x="963" y="458" width="5" height="5" fill="#481c6e"/>
<rect x="968" y="458" width="5" height="5" fill="#463480"/>
<rect x="973" y="458" width="5" height="5" fill="#2c728e"/>
<rect x="834" y="463" width="5" height="6" fill="#2c728e"/>
<rect x="839" y="463" width="5" height="6" fill="#463480"/>
<rect x="844" y="463" width="5" height="6" fill="#481c6e"/>
<rect x="849" y="463" width="114" height="6" fill="#460a5d"/>
<rect x="963" y="463" width="5" height="6" fill="#481c6e"/>
<rect x="968" y="463" width="5" height="6" fill="#463480"/>
<rect x="973" y="463" width="5" height="6" fill="#2c728e"/>
<rect x="834" y="469" width="5" height="5" fill="#2c728e"/>
<rect x="839" y="469" width="5" height="5" fill="#463480"/>
<rect x="844" y="469" width="5" height="5" fill="#481c6e"/>
<rect x="849" y="469" width="114" height="5" fill="#460a5d"/>
<rect x="963" y="469" width="5" height="5" fill="#481c6e"/>
<rect x="968" y="469" width="5" height="5" fill="#463480"/>
<rect x="973" y="469" width="5" height="5" fill="#2c728e"/>
<rect x="834" y="474" width="5" height="5" fill="#2c728e"/>
<rect x="839" y="474" width="5" height="5" fill="#463480"/>
<rect x="844" y="474" width="124" height="5" fill="#481c6e"/>
<rect x="968" y="474" width="5" height="5" fill="#463480"/>
<rect x="973" y="474" width="5" height="5" fill="#2c728e"/>
<rect x="834" y="479" width="5" height="5" fill="#2c728e"/>
<rect x="839" y="479" width="5" height="5" fill="#463480"/>
<rect x="844" y="479" width="124" height="5" fill="#481c6e"/>
<rect x="968" y="479" width="5" height="5" fill="#463480"/>
<rect x="973" y="479" width="5" height="5" fill="#2c728e"/>
<rect x="834" y="484" width="5" height="5" fill="#2c728e"/>
<rect x="839" y="484" width="134" height="5" fill="#463480"/>
<rect x="973" y="484" width="5" height="5" fill="#2c728e"/>
<rect x="834" y="489" width="5" height="5" fill="#8bd646"/>
<rect x="839" y="489" width="134" height="5" fill="#2c728e"/>
<rect x="973" y="489" width="5" height="5" fill="#8bd646"/>
</g>
<g shape-rendering="crispEdges">
<rect x="1029" y="27" width="10" height="10" fill="#2c728e"/>
<rect x="1039" y="27" width="10" height="10" fill="#3b528b"/>
<rect x="1049" y="27" width="103" height="10" fill="#482475"/>
<rect x="1152" y="27" width="11" height="10" fill="#414487"/>
<rect x="1163" y="27" width="10" height="10" fill="#2c728e"/>
<rect x="1029" y="37" width="10" height="10" fill="#38598c"/>
<rect x="1039" y="37" width="10" height="10" fill="#463480"/>
<rect x="1049" y="37" width="103" height="10" fill="#460a5d"/>
<rect x="1152" y="37" width="11" height="10" fill="#463480"/>
<rect x="1163" y="37" width="10" height="10" fill="#38598c"/>
<rect x="1029" y="47" width="10" height="11" fill="#3b528b"/>
<rect x="1039" y="47" width="21" height="11" fill="#471365"/>
<rect x="1060" y="47" width="10" height="11" fill="#482475"/>
<rect x="1070" y="47" width="41" height="11" fill="#472d7b"/>
<rect x="1111" y="47" width="11" height="11" fill="#482475"/>
<rect x="1122" y="47" width="30" height="11" fill="#460a5d"/>
<rect x="1152" y="47" width="11" height="11" fill="#482475"/>
<rect x="1163" y="47" width="10" height="11" fill="#3b528b"/>
<rect x="1029" y="58" width="10" height="10" fill="#3b528b"/>
<rect x="1039" y="58" width="10" height="10" fill="#482475"/>
<rect x="1049" y="58" width="11" height="10" fill="#472d7b"/>
<rect x="1060" y="58" width="10" height="10" fill="#463480"/>
<rect x="1070" y="58" width="10" height="10" fill="#414487"/>
<rect x="1080" y="58" width="21" height="10" fill="#3b528b"/>
<rect x="1101" y="58" width="10" height="10" fill="#3e4a89"/>
<rect x="1111" y="58" width="52" height="10" fill="#414487"/>
<rect x="1163" y="58" width="10" height="10" fill="#3b528b"/>
<rect x="1029" y="68" width="10" height="10" fill="#38598c"/>
<rect x="1039" y="68" width="10" height="10" fill="#3e4a89"/>
<rect x="1049" y="68" width="11" height="10" fill="#3b528b"/>
<rect x="1060" y="68" width="10" height="10" fill="#38598c"/>
<rect x="1070" y="68" width="10" height="10" fill="#2c728e"/>
<rect x="1080" y="68" width="11" height="10" fill="#1e9c89"/>
<rect x="1091" y="68" width="31" height="10" fill="#277e8e"/>
<rect x="1122" y="68" width="10" height="10" fill="#31668e"/>
<rect x="1132" y="68" width="41" height="10" fill="#38598c"/>
<rect x="1029" y="78" width="10" height="11" fill="#31668e"/>
<rect x="1039" y="78" width="10" height="11" fill="#38598c"/>
<rect x="1049" y="78" width="11" height="11" fill="#31668e"/>
<rect x="1060" y="78" width="10" height="11" fill="#2c728e"/>
<rect x="1070" y="78" width="10" height="11" fill="#22a884"/>
<rect x="1080" y="78" width="11" height="11" fill="#2fb47c"/>
<rect x="1091" y="78" width="20" height="11" fill="#21918c"/>
<rect x="1111" y="78" width="11" height="11" fill="#1e9c89"/>
<rect x="1122" y="78" width="20" height="11" fill="#21918c"/>
<rect x="1142" y="78" width="10" height="11" fill="#1e9c89"/>
<rect x="1152" y="78" width="11" height="11" fill="#22a884"/>
<rect x="1163" y="78" width="10" height="11" fill="#2c728e"/>
<rect x="1029" y="89" width="10" height="10" fill="#2c728e"/>
<rect x="1039" y="89" width="10" height="10" fill="#21918c"/>
<rect x="1049" y="89" width="11" height="10" fill="#7ad151"/>
<rect x="1060" y="89" width="10" height="10" fill="#2fb47c"/>
<rect x="1070" y="89" width="10" height="10" fill="#22a884"/>
<rect x="1080" y="89" width="11" height="10" fill="#21918c"/>
<rect x="1091" y="89" width="20" height="10" fill="#277e8e"/>
<rect x="1111" y="89" width="21" height="10" fill="#21918c"/>
<rect x="1132" y="89" width="10" height="10" fill="#7ad151"/>
<rect x="1142" y="89" width="10" height="10" fill="#fde725"/>
<rect x="1152" y="89" width="11" height="10" fill="#22a884"/>
<rect x="1163" y="89" width="10" height="10" fill="#2c728e"/>
<rect x="1029" y="99" width="10" height="10" fill="#2c728e"/>
<rect x="1039" y="99" width="10" height="10" fill="#21918c"/>
<rect x="1049" y="99" width="21" height="10" fill="#dfe318"/>
<rect x="1070" y="99" width="10" height="10" fill="#22a884"/>
<rect x="1080" y="99" width="11" height="10" fill="#21918c"/>
<rect x="1091" y="99" width="10" height="10" fill="#277e8e"/>
<rect x="1101" y="99" width="31" height="10" fill="#21918c"/>
<rect x="1132" y="99" width="10" height="10" fill="#5ec962"/>
<rect x="1142" y="99" width="10" height="10" fill="#fde725"/>
<rect x="1152" y="99" width="11" height="10" fill="#22a884"/>
<rect x="1163" y="99" width="10" height="10" fill="#2c728e"/>
<rect x="1029" y="109" width="10" height="11" fill="#2c728e"/>
<rect x="1039" y="109" width="10" height="11" fill="#21918c"/>
<rect x="1049" y="109" width="11" height="11" fill="#5ec962"/>
<rect x="1060" y="109" width="10" height="11" fill="#44bf70"/>
<rect x="1070" y="109" width="10" height="11" fill="#1e9c89"/>
<rect x="1080" y="109" width="11" height="11" fill="#21918c"/>
<rect x="1091" y="109" width="20" height="11" fill="#277e8e"/>
<rect x="1111" y="109" width="11" height="11" fill="#2fb47c"/>
<rect x="1122" y="109" width="10" height="11" fill="#21918c"/>
<rect x="1132" y="109" width="31" height="11" fill="#1e9c89"/>
<rect x="1163" y="109" width="10" height="11" fill="#2c728e"/>
<rect x="1029" y="120" width="20" height="10" fill="#31668e"/>
<rect x="1049" y="120" width="42" height="10" fill="#2c728e"/>
<rect x="1091" y="120" width="20" height="10" fill="#31668e"/>
<rect x="1111" y="120" width="11" height="10" fill="#2c728e"/>
<rect x="1122" y="120" width="51" height="10" fill="#31668e"/>
<rect x="1029" y="130" width="10" height="10" fill="#3b528b"/>
<rect x="1039" y="130" width="10" height="10" fill="#463480"/>
<rect x="1049" y="130" width="11" height="10" fill="#414487"/>
<rect x="1060" y="130" width="10" height="10" fill="#3b528b"/>
<rect x="1070" y="130" width="21" height="10" fill="#38598c"/>
<rect x="1091" y="130" width="51" height="10" fill="#3b528b"/>
<rect x="1142" y="130" width="10" height="10" fill="#38598c"/>
<rect x="1152" y="130" width="11" height="10" fill="#3e4a89"/>
<rect x="1163" y="130" width="10" height="10" fill="#3b528b"/>
<rect x="1029" y="140" width="10" height="11" fill="#3b528b"/>
<rect x="1039" y="140" width="10" height="11" fill="#471365"/>
<rect x="1049" y="140" width="11" height="11" fill="#481c6e"/>
<rect x="1060" y="140" width="10" height="11" fill="#482475"/>
<rect x="1070" y="140" width="41" height="11" fill="#472d7b"/>
<rect x="1111" y="140" width="11" height="11" fill="#482475"/>
<rect x="1122" y="140" width="30" height="11" fill="#471365"/>
<rect x="1152" y="140" width="11" height="11" fill="#481c6e"/>
<rect x="1163" y="140" width="10" height="11" fill="#414487"/>
<rect x="1029" y="151" width="10" height="10" fill="#3b528b"/>
<rect x="1039" y="151" width="10" height="10" fill="#481c6e"/>
<rect x="1049" y="151" width="103" height="10" fill="#460a5d"/>
<rect x="1152" y="151" width="11" height="10" fill="#481c6e"/>
<rect x="1163" y="151" width="10" height="10" fill="#414487"/>
<rect x="1029" y="161" width="10" height="10" fill="#277e8e"/>
<rect x="1039" y="161" width="10" height="10" fill="#38598c"/>
<rect x="1049" y="161" width="11" height="10" fill="#414487"/>
<rect x="1060" y="161" width="92" height="10" fill="#443b84"/>
<rect x="1152" y="161" width="11" height="10" fill="#38598c"/>
<rect x="1163" y="161" width="10" height="10" fill="#277e8e"/>
</g>
<g shape-rendering="crispEdges">
<rect x="1029" y="188" width="10" height="11" fill="#277e8e"/>
<rect x="1039" y="188" width="10" height="11" fill="#3b528b"/>
<rect x="1049" y="188" width="103" height="11" fill="#472d7b"/>
<rect x="1152" y="188" width="11" height="11" fill="#414487"/>
<rect x="1163" y="188" width="10" height="11" fill="#277e8e"/>
<rect x="1029" y="199" width="10" height="10" fill="#38598c"/>
<rect x="1039" y="199" width="10" height="10" fill="#463480"/>
<rect x="1049" y="199" width="11" height="10" fill="#482475"/>
<rect x="1060" y="199" width="92" height="10" fill="#471365"/>
<rect x="1152" y="199" width="11" height="10" fill="#472d7b"/>
<rect x="1163" y="199" width="10" height="10" fill="#38598c"/>
<rect x="1029" y="209" width="10" height="10" fill="#3b528b"/>
<rect x="1039" y="209" width="10" height="10" fill="#481c6e"/>
<rect x="1049" y="209" width="11" height="10" fill="#460a5d"/>
<rect x="1060" y="209" width="10" height="10" fill="#481c6e"/>
<rect x="1070" y="209" width="10" height="10" fill="#472d7b"/>
<rect x="1080" y="209" width="42" height="10" fill="#463480"/>
<rect x="1122" y="209" width="10" height="10" fill="#481c6e"/>
<rect x="1132" y="209" width="20" height="10" fill="#460a5d"/>
<rect x="1152" y="209" width="11" height="10" fill="#481c6e"/>
<rect x="1163" y="209" width="10" height="10" fill="#3e4a89"/>
<rect x="1029" y="219" width="10" height="11" fill="#3b528b"/>
<rect x="1039" y="219" width="10" height="11" fill="#481c6e"/>
<rect x="1049" y="219" width="11" height="11" fill="#472d7b"/>
<rect x="1060" y="219" width="10" height="11" fill="#414487"/>
<rect x="1070" y="219" width="31" height="11" fill="#3b528b"/>
<rect x="1101" y="219" width="31" height="11" fill="#443b84"/>
<rect x="1132" y="219" width="20" height="11" fill="#414487"/>
<rect x="1152" y="219" width="11" height="11" fill="#443b84"/>
<rect x="1163" y="219" width="10" height="11" fill="#3b528b"/>
<rect x="1029" y="230" width="10" height="10" fill="#3b528b"/>
<rect x="1039" y="230" width="10" height="10" fill="#472d7b"/>
<rect x="1049" y="230" width="11" height="10" fill="#463480"/>
<rect x="1060" y="230" width="10" height="10" fill="#3b528b"/>
<rect x="1070" y="230" width="21" height="10" fill="#277e8e"/>
<rect x="1091" y="230" width="20" height="10" fill="#31668e"/>
<rect x="1111" y="230" width="21" height="10" fill="#2c728e"/>
<rect x="1132" y="230" width="20" height="10" fill="#414487"/>
<rect x="1152" y="230" width="11" height="10" fill="#3b528b"/>
<rect x="1163" y="230" width="10" height="10" fill="#38598c"/>
<rect x="1029" y="240" width="10" height="10" fill="#31668e"/>
<rect x="1039" y="240" width="10" height="10" fill="#3b528b"/>
<rect x="1049" y="240" width="11" height="10" fill="#38598c"/>
<rect x="1060" y="240" width="10" height="10" fill="#277e8e"/>
<rect x="1070" y="240" width="10" height="10" fill="#7ad151"/>
<rect x="1080" y="240" width="11" height="10" fill="#22a884"/>
<rect x="1091" y="240" width="20" height="10" fill="#277e8e"/>
<rect x="1111" y="240" width="11" height="10" fill="#22a884"/>
<rect x="1122" y="240" width="10" height="10" fill="#1e9c89"/>
<rect x="1132" y="240" width="10" height="10" fill="#2c728e"/>
<rect x="1142" y="240" width="10" height="10" fill="#277e8e"/>
<rect x="1152" y="240" width="11" height="10" fill="#1e9c89"/>
<rect x="1163" y="240" width="10" height="10" fill="#31668e"/>
<rect x="1029" y="250" width="20" height="11" fill="#31668e"/>
<rect x="1049" y="250" width="11" height="11" fill="#44bf70"/>
<rect x="1060" y="250" width="10" height="11" fill="#9bd93c"/>
<rect x="1070" y="250" width="10" height="11" fill="#22a884"/>
<rect x="1080" y="250" width="11" height="11" fill="#277e8e"/>
<rect x="1091" y="250" width="10" height="11" fill="#2a788e"/>
<rect x="1101" y="250" width="10" height="11" fill="#277e8e"/>
<rect x="1111" y="250" width="21" height="11" fill="#21918c"/>
<rect x="1132" y="250" width="10" height="11" fill="#5ec962"/>
<rect x="1142" y="250" width="10" height="11" fill="#fde725"/>
<rect x="1152" y="250" width="11" height="11" fill="#1e9c89"/>
<rect x="1163" y="250" width="10" height="11" fill="#31668e"/>
<rect x="1029" y="261" width="10" height="10" fill="#355f8d"/>
<rect x="1039" y="261" width="10" height="10" fill="#31668e"/>
<rect x="1049" y="261" width="11" height="10" fill="#5ec962"/>
<rect x="1060" y="261" width="10" height="10" fill="#efe51c"/>
<rect x="1070" y="261" width="10" height="10" fill="#2fb47c"/>
<rect x="1080" y="261" width="11" height="10" fill="#2c728e"/>
<rect x="1091" y="261" width="10" height="10" fill="#3b528b"/>
<rect x="1101" y="261" width="10" height="10" fill="#31668e"/>
<rect x="1111" y="261" width="11" height="10" fill="#277e8e"/>
<rect x="1122" y="261" width="10" height="10" fill="#1e9c89"/>
<rect x="1132" y="261" width="10" height="10" fill="#5ec962"/>
<rect x="1142" y="261" width="10" height="10" fill="#fde725"/>
<rect x="1152" y="261" width="11" height="10" fill="#1e9c89"/>
<rect x="1163" y="261" width="10" height="10" fill="#31668e"/>
<rect x="1029" y="271" width="10" height="10" fill="#355f8d"/>
<rect x="1039" y="271" width="10" height="10" fill="#31668e"/>
<rect x="1049" y="271" width="11" height="10" fill="#21918c"/>
<rect x="1060" y="271" width="20" height="10" fill="#2fb47c"/>
<rect x="1080" y="271" width="11" height="10" fill="#2a788e"/>
<rect x="1091" y="271" width="10" height="10" fill="#31668e"/>
<rect x="1101" y="271" width="10" height="10" fill="#2c728e"/>
<rect x="1111" y="271" width="11" height="10" fill="#21918c"/>
<rect x="1122" y="271" width="30" height="10" fill="#1e9c89"/>
<rect x="1152" y="271" width="11" height="10" fill="#21918c"/>
<rect x="1163" y="271" width="10" height="10" fill="#31668e"/>
<rect x="1029" y="281" width="10" height="11" fill="#38598c"/>
<rect x="1039" y="281" width="10" height="11" fill="#3b528b"/>
<rect x="1049" y="281" width="11" height="11" fill="#31668e"/>
<rect x="1060" y="281" width="20" height="11" fill="#2a788e"/>
<rect x="1080" y="281" width="52" height="11" fill="#31668e"/>
<rect x="1132" y="281" width="20" height="11" fill="#355f8d"/>
<rect x="1152" y="281" width="11" height="11" fill="#38598c"/>
<rect x="1163" y="281" width="10" height="11" fill="#355f8d"/>
<rect x="1029" y="292" width="10" height="10" fill="#3b528b"/>
<rect x="1039" y="292" width="21" height="10" fill="#472d7b"/>
<rect x="1060" y="292" width="10" height="10" fill="#3e4a89"/>
<rect x="1070" y="292" width="10" height="10" fill="#3b528b"/>
<rect x="1080" y="292" width="31" height="10" fill="#38598c"/>
<rect x="1111" y="292" width="21" height="10" fill="#3b528b"/>
<rect x="1132" y="292" width="20" height="10" fill="#3e4a89"/>
<rect x="1152" y="292" width="11" height="10" fill="#463480"/>
<rect x="1163" y="292" width="10" height="10" fill="#3b528b"/>
<rect x="1029" y="302" width="10" height="10" fill="#3e4a89"/>
<rect x="1039" y="302" width="31" height="10" fill="#471365"/>
<rect x="1070" y="302" width="21" height="10" fill="#482475"/>
<rect x="1091" y="302" width="31" height="10" fill="#472d7b"/>
<rect x="1122" y="302" width="10" height="10" fill="#482475"/>
<rect x="1132" y="302" width="20" height="10" fill="#481c6e"/>
<rect x="1152" y="302" width="11" height="10" fill="#482475"/>
<rect x="1163" y="302" width="10" height="10" fill="#414487"/>
<rect x="1029" y="312" width="10" height="10" fill="#3e4a89"/>
<rect x="1039" y="312" width="10" height="10" fill="#482475"/>
<rect x="1049" y="312" width="103" height="10" fill="#460a5d"/>
<rect x="1152" y="312" width="11" height="10" fill="#481c6e"/>
<rect x="1163" y="312" width="10" height="10" fill="#414487"/>
<rect x="1029" y="322" width="10" height="11" fill="#25848e"/>
<rect x="1039" y="322" width="10" height="11" fill="#38598c"/>
<rect x="1049" y="322" width="11" height="11" fill="#414487"/>
<rect x="1060" y="322" width="92" height="11" fill="#443b84"/>
<rect x="1152" y="322" width="11" height="11" fill="#3b528b"/>
<rect x="1163" y="322" width="10" height="11" fill="#2a788e"/>
</g>
<g shape-rendering="crispEdges">
<rect x="1029" y="350" width="10" height="10" fill="#277e8e"/>
<rect x="1039" y="350" width="10" height="10" fill="#3b528b"/>
<rect x="1049" y="350" width="103" height="10" fill="#463480"/>
<rect x="1152" y="350" width="11" height="10" fill="#3e4a89"/>
<rect x="1163" y="350" width="10" height="10" fill="#2a788e"/>
<rect x="1029" y="360" width="10" height="11" fill="#38598c"/>
<rect x="1039" y="360" width="10" height="11" fill="#463480"/>
<rect x="1049" y="360" width="11" height="11" fill="#472d7b"/>
<rect x="1060" y="360" width="82" height="11" fill="#471365"/>
<rect x="1142" y="360" width="10" height="11" fill="#482475"/>
<rect x="1152" y="360" width="11" height="11" fill="#463480"/>
<rect x="1163" y="360" width="10" height="11" fill="#38598c"/>
<rect x="1029" y="371" width="10" height="10" fill="#3e4a89"/>
<rect x="1039" y="371" width="10" height="10" fill="#481c6e"/>
<rect x="1049" y="371" width="11" height="10" fill="#471365"/>
<rect x="1060" y="371" width="10" height="10" fill="#482475"/>
<rect x="1070" y="371" width="41" height="10" fill="#443b84"/>
<rect x="1111" y="371" width="11" height="10" fill="#481c6e"/>
<rect x="1122" y="371" width="30" height="10" fill="#460a5d"/>
<rect x="1152" y="371" width="11" height="10" fill="#481c6e"/>
<rect x="1163" y="371" width="10" height="10" fill="#3e4a89"/>
<rect x="1029" y="381" width="10" height="10" fill="#3e4a89"/>
<rect x="1039" y="381" width="10" height="10" fill="#481c6e"/>
<rect x="1049" y="381" width="21" height="10" fill="#443b84"/>
<rect x="1070" y="381" width="10" height="10" fill="#3e4a89"/>
<rect x="1080" y="381" width="21" height="10" fill="#38598c"/>
<rect x="1101" y="381" width="10" height="10" fill="#3b528b"/>
<rect x="1111" y="381" width="41" height="10" fill="#443b84"/>
<rect x="1152" y="381" width="11" height="10" fill="#482475"/>
<rect x="1163" y="381" width="10" height="10" fill="#3e4a89"/>
<rect x="1029" y="391" width="10" height="11" fill="#3b528b"/>
<rect x="1039" y="391" width="10" height="11" fill="#472d7b"/>
<rect x="1049" y="391" width="11" height="11" fill="#443b84"/>
<rect x="1060" y="391" width="10" height="11" fill="#3b528b"/>
<rect x="1070" y="391" width="10" height="11" fill="#2a788e"/>
<rect x="1080" y="391" width="11" height="11" fill="#22a884"/>
<rect x="1091" y="391" width="10" height="11" fill="#25848e"/>
<rect x="1101" y="391" width="10" height="11" fill="#2a788e"/>
<rect x="1111" y="391" width="11" height="11" fill="#31668e"/>
<rect x="1122" y="391" width="30" height="11" fill="#3b528b"/>
<rect x="1152" y="391" width="11" height="11" fill="#443b84"/>
<rect x="1163" y="391" width="10" height="11" fill="#3b528b"/>
<rect x="1029" y="402" width="10" height="10" fill="#355f8d"/>
<rect x="1039" y="402" width="10" height="10" fill="#3e4a89"/>
<rect x="1049" y="402" width="11" height="10" fill="#31668e"/>
<rect x="1060" y="402" width="10" height="10" fill="#2a788e"/>
<rect x="1070" y="402" width="10" height="10" fill="#50c46a"/>
<rect x="1080" y="402" width="11" height="10" fill="#8bd646"/>
<rect x="1091" y="402" width="10" height="10" fill="#1e9c89"/>
<rect x="1101" y="402" width="10" height="10" fill="#25848e"/>
<rect x="1111" y="402" width="11" height="10" fill="#21918c"/>
<rect x="1122" y="402" width="20" height="10" fill="#277e8e"/>
<rect x="1142" y="402" width="10" height="10" fill="#22a884"/>
<rect x="1152" y="402" width="21" height="10" fill="#38598c"/>
<rect x="1029" y="412" width="10" height="10" fill="#31668e"/>
<rect x="1039" y="412" width="10" height="10" fill="#2a788e"/>
<rect x="1049" y="412" width="11" height="10" fill="#cde11d"/>
<rect x="1060" y="412" width="10" height="10" fill="#bddf26"/>
<rect x="1070" y="412" width="10" height="10" fill="#2fb47c"/>
<rect x="1080" y="412" width="11" height="10" fill="#277e8e"/>
<rect x="1091" y="412" width="10" height="10" fill="#2a788e"/>
<rect x="1101" y="412" width="10" height="10" fill="#277e8e"/>
<rect x="1111" y="412" width="11" height="10" fill="#21918c"/>
<rect x="1122" y="412" width="10" height="10" fill="#38b977"/>
<rect x="1132" y="412" width="10" height="10" fill="#dfe318"/>
<rect x="1142" y="412" width="10" height="10" fill="#fde725"/>
<rect x="1152" y="412" width="11" height="10" fill="#31668e"/>
<rect x="1163" y="412" width="10" height="10" fill="#38598c"/>
<rect x="1029" y="422" width="10" height="11" fill="#31668e"/>
<rect x="1039" y="422" width="10" height="11" fill="#277e8e"/>
<rect x="1049" y="422" width="11" height="11" fill="#cde11d"/>
<rect x="1060" y="422" width="10" height="11" fill="#efe51c"/>
<rect x="1070" y="422" width="10" height="11" fill="#44bf70"/>
<rect x="1080" y="422" width="11" height="11" fill="#1e9c89"/>
<rect x="1091" y="422" width="20" height="11" fill="#2c728e"/>
<rect x="1111" y="422" width="11" height="11" fill="#1f968b"/>
<rect x="1122" y="422" width="10" height="11" fill="#38b977"/>
<rect x="1132" y="422" width="10" height="11" fill="#dfe318"/>
<rect x="1142" y="422" width="10" height="11" fill="#fde725"/>
<rect x="1152" y="422" width="11" height="11" fill="#2c728e"/>
<rect x="1163" y="422" width="10" height="11" fill="#355f8d"/>
<rect x="1029" y="433" width="10" height="10" fill="#355f8d"/>
<rect x="1039" y="433" width="10" height="10" fill="#2c728e"/>
<rect x="1049" y="433" width="21" height="10" fill="#1fa287"/>
<rect x="1070" y="433" width="10" height="10" fill="#9bd93c"/>
<rect x="1080" y="433" width="11" height="10" fill="#28ae80"/>
<rect x="1091" y="433" width="20" height="10" fill="#2c728e"/>
<rect x="1111" y="433" width="11" height="10" fill="#21918c"/>
<rect x="1122" y="433" width="10" height="10" fill="#25848e"/>
<rect x="1132" y="433" width="10" height="10" fill="#1fa287"/>
<rect x="1142" y="433" width="10" height="10" fill="#44bf70"/>
<rect x="1152" y="433" width="11" height="10" fill="#31668e"/>
<rect x="1163" y="433" width="10" height="10" fill="#355f8d"/>
<rect x="1029" y="443" width="10" height="10" fill="#38598c"/>
<rect x="1039" y="443" width="10" height="10" fill="#3e4a89"/>
<rect x="1049" y="443" width="11" height="10" fill="#3b528b"/>
<rect x="1060" y="443" width="10" height="10" fill="#355f8d"/>
<rect x="1070" y="443" width="10" height="10" fill="#25848e"/>
<rect x="1080" y="443" width="11" height="10" fill="#2f6c8e"/>
<rect x="1091" y="443" width="31" height="10" fill="#31668e"/>
<rect x="1122" y="443" width="10" height="10" fill="#355f8d"/>
<rect x="1132" y="443" width="20" height="10" fill="#31668e"/>
<rect x="1152" y="443" width="11" height="10" fill="#3b528b"/>
<rect x="1163" y="443" width="10" height="10" fill="#38598c"/>
<rect x="1029" y="453" width="10" height="10" fill="#3e4a89"/>
<rect x="1039" y="453" width="10" height="10" fill="#482475"/>
<rect x="1049" y="453" width="11" height="10" fill="#472d7b"/>
<rect x="1060" y="453" width="10" height="10" fill="#3e4a89"/>
<rect x="1070" y="453" width="41" height="10" fill="#3b528b"/>
<rect x="1111" y="453" width="11" height="10" fill="#414487"/>
<rect x="1122" y="453" width="10" height="10" fill="#443b84"/>
<rect x="1132" y="453" width="20" height="10" fill="#414487"/>
<rect x="1152" y="453" width="11" height="10" fill="#472d7b"/>
<rect x="1163" y="453" width="10" height="10" fill="#3e4a89"/>
<rect x="1029" y="463" width="10" height="11" fill="#3e4a89"/>
<rect x="1039" y="463" width="31" height="11" fill="#471365"/>
<rect x="1070" y="463" width="41" height="11" fill="#472d7b"/>
<rect x="1111" y="463" width="11" height="11" fill="#471365"/>
<rect x="1122" y="463" width="30" height="11" fill="#460a5d"/>
<rect x="1152" y="463" width="11" height="11" fill="#471365"/>
<rect x="1163" y="463" width="10" height="11" fill="#414487"/>
<rect x="1029" y="474" width="10" height="10" fill="#3e4a89"/>
<rect x="1039" y="474" width="10" height="10" fill="#481c6e"/>
<rect x="1049" y="474" width="103" height="10" fill="#460a5d"/>
<rect x="1152" y="474" width="11" height="10" fill="#481c6e"/>
<rect x="1163" y="474" width="10" height="10" fill="#414487"/>
<rect x="1029" y="484" width="10" height="10" fill="#277e8e"/>
<rect x="1039" y="484" width="10" height="10" fill="#38598c"/>
<rect x="1049" y="484" width="11" height="10" fill="#414487"/>
<rect x="1060" y="484" width="92" height="10" fill="#443b84"/>
<rect x="1152" y="484" width="11" height="10" fill="#3b528b"/>
<rect x="1163" y="484" width="10" height="10" fill="#2a788e"/>
</g>
</svg>
</body></html>
